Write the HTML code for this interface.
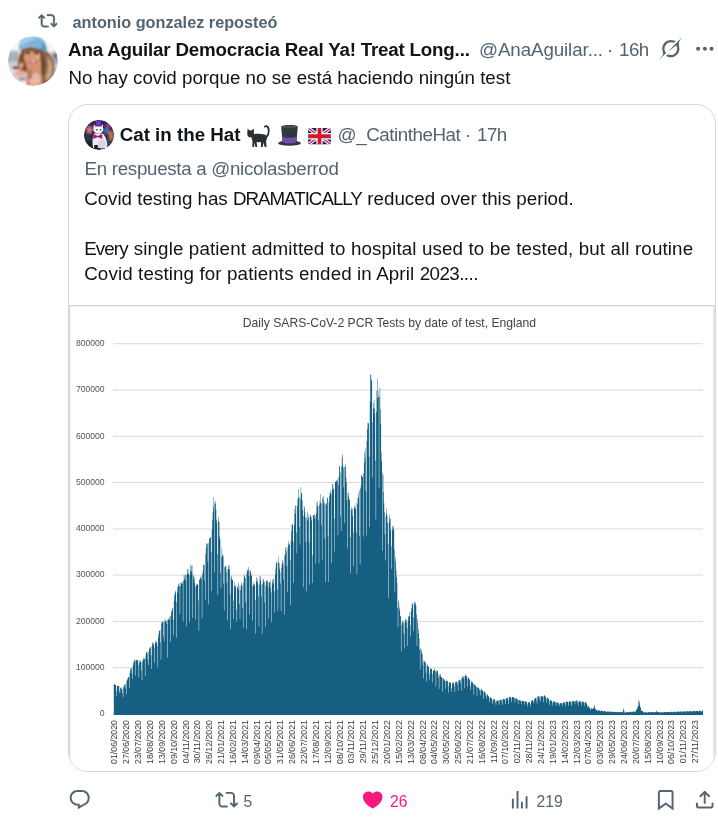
<!DOCTYPE html>
<html lang="es">
<head>
<meta charset="utf-8">
<title>Post</title>
<style>
html,body{margin:0;padding:0;background:#fff;}
body{width:718px;height:818px;position:relative;overflow:hidden;font-family:"Liberation Sans",sans-serif;color:#0f1419;-webkit-font-smoothing:antialiased;}
.abs{position:absolute;white-space:nowrap;line-height:1;}
.ln{height:19px;width:0;}
.ln span{position:absolute;top:0;white-space:pre;}
.ln i{font-style:normal;}
.rt{left:72.5px;top:14.25px;font-size:16.25px;font-weight:700;color:#536471;}
.name{left:0;top:40.75px;font-size:18.75px;font-weight:700;}
.handle{left:479px;top:40.75px;font-size:18.75px;color:#536471;letter-spacing:-0.1px;}
.time i,.qtime i{font-style:normal;letter-spacing:-0.5px;margin-left:0.5px;}
.time{left:607px;top:40.75px;font-size:18.75px;color:#536471;}
.body{left:0;top:68.5px;font-size:18.75px;}
.av1{left:8px;top:36px;width:50px;height:50px;border-radius:50%;overflow:hidden;}
.card{position:absolute;left:68px;top:104px;width:645.7px;height:665.7px;border:1px solid #cfd9de;border-radius:20px;overflow:hidden;box-sizing:content-box;}
.av2{left:15px;top:15px;width:30px;height:30px;border-radius:50%;overflow:hidden;}
.qname{left:50.7px;top:20.9px;font-size:18.75px;font-weight:700;}
.qhandle{left:268.6px;top:21px;font-size:18.75px;color:#536471;letter-spacing:-0.45px;}
.qtime{left:396px;top:21px;font-size:18.75px;color:#536471;}
.qreply{left:-69px;top:55px;font-size:18.75px;color:#536471;}
.q1{left:-69px;top:84.5px;font-size:18.75px;}
.q2{left:-69px;top:134.5px;font-size:18.75px;}
.q3{left:-69px;top:159.5px;font-size:18.75px;}
.chart{position:absolute;left:0;top:200px;}
.cnt{font-size:15.7px;color:#536471;}
</style>
</head>
<body>
<!-- repost line -->
<svg class="abs" style="left:38.200px;top:11.300px" width="19.600" height="19.600" viewBox="0 0 24 24"><path fill="#536471" stroke="#536471" stroke-width="0.400" d="M4.5 3.88l4.432 4.14-1.364 1.46L5.5 7.55V16c0 1.1.896 2 2 2H13v2H7.500c-2.209 0-4-1.790-4-4V7.550L1.432 9.480.068 8.020 4.500 3.880zM16.500 6H11V4h5.500c2.209 0 4 1.790 4 4v8.450l2.068-1.930 1.364 1.460-4.432 4.140-4.432-4.140 1.364-1.460 2.068 1.930V8c0-1.100-.896-2-2-2z"/></svg>
<div class="abs rt">antonio gonzalez reposteó</div>

<!-- avatar -->
<div class="abs av1">
<svg width="50" height="50" viewBox="0 0 50 50">
<defs><filter id="b1" x="-20%" y="-20%" width="140%" height="140%"><feGaussianBlur stdDeviation="0.9"/></filter>
<filter id="b1b" x="-20%" y="-20%" width="140%" height="140%"><feGaussianBlur stdDeviation="1.8"/></filter>
<clipPath id="c1"><circle cx="25" cy="25" r="25"/></clipPath></defs>
<g clip-path="url(#c1)">
<rect width="50" height="50" fill="#f6f6f7"/>
<g filter="url(#b1b)">
<rect x="-2" y="15" width="13" height="12" fill="#a9b2bb"/>
<rect x="-2" y="26" width="13" height="9" fill="#d2d2d4"/>
<rect x="43" y="16" width="9" height="12" fill="#a4a9b2"/>
<rect x="44" y="28" width="8" height="8" fill="#dcdad8"/>
</g>
<g filter="url(#b1)">
<rect x="5" y="30.500" width="5.500" height="2.600" fill="#555"/>
<rect x="46" y="18" width="3" height="4" fill="#5e6670"/>
<!-- hair right -->
<path d="M30 12 C38 12 44 18 46 27 C48 35 46 42 41 47 C38 49 33 49 31 46 C33 38 33 26 30 12Z" fill="#8a6246"/>
<path d="M39 20 C44 24 46 32 43 41 C41 44 38 45 37 43 C40 36 41 28 39 20Z" fill="#c9a47e"/>
<path d="M31 14 C36 18 37.500 26 36.500 36 C35 41 32 42 31 40 C32 30 32 22 31 14Z" fill="#63402c"/>
<!-- hair left -->
<path d="M14 15 C10 20 9 28 11 34 C13 38 18 38 21 35 C18 30 17 22 18 15Z" fill="#7e4a30"/>
<ellipse cx="13.500" cy="30" rx="2.200" ry="3.500" fill="#d9a882"/>
<ellipse cx="17" cy="33" rx="3" ry="3.500" fill="#7a4028"/>
<!-- shoulder / chest -->
<ellipse cx="11" cy="40" rx="9" ry="6" fill="#efc6bd"/>
<ellipse cx="12" cy="37" rx="5" ry="2.500" fill="#e4a79c"/>
<path d="M19 25 L33 25 L34 50 L18 50Z" fill="#d3936f"/>
<ellipse cx="27" cy="43" rx="6" ry="6" fill="#e8b9a2"/>
<ellipse cx="22" cy="38" rx="2.500" ry="5" fill="#b87a60"/>
<rect x="11" y="41" width="6.500" height="3.600" fill="#86a7bf"/>
<!-- face -->
<ellipse cx="24.300" cy="21" rx="8.300" ry="10" fill="#d39a78"/>
<ellipse cx="24" cy="14" rx="8" ry="2.600" fill="#a9704f"/>
<ellipse cx="19.800" cy="16.800" rx="2.300" ry="1.400" fill="#35211d"/>
<ellipse cx="28.400" cy="17.100" rx="2.300" ry="1.400" fill="#35211d"/>
<ellipse cx="25" cy="25.800" rx="4.600" ry="1.900" fill="#c4504e"/>
<ellipse cx="25" cy="25.400" rx="2.800" ry="0.800" fill="#f3dcd4"/>
<ellipse cx="29.500" cy="21" rx="2" ry="2.500" fill="#e6ae8c"/>
<!-- cap -->
<path d="M14.200 2.500 C18 0.500 27 -0.500 31.800 1.400 C36 3.500 38.500 8 38.600 13 C38 15.500 36.500 16 35.600 15.300 C33 13.500 28 11 22.800 10.500 C18 10.500 14 12 11.900 14.400 C10.500 13 10.500 10.500 11.200 9.500 C11.500 6.500 12.500 4 14.200 2.500Z" fill="#7db5d8"/>
<path d="M14.500 3.500 C18 1.500 25 0.800 29 2 C24 4 18 6 13 10 C12.500 7.500 13.200 5 14.500 3.500Z" fill="#a4d0ea"/>
<path d="M34 5 C37 7.500 38.800 11 38.600 13.500 C38 15.500 36.500 16 35.600 15.300 C34.500 14.500 33.500 14 32.500 13.500 C34 11 34.500 8 34 5Z" fill="#5e92b8"/>
<path d="M12.500 14.300 C16 11.800 20 11.200 23 11.400 C28 12 32 14 35 16 L34.300 17 C31 15 27 13.500 23 13.200 C19 13 15.500 14 13.200 15.500Z" fill="#4d3430"/>
</g>
</g>
</svg>
</div>

<div class="abs ln name"><span style="left:68.1px"><i style="letter-spacing:-0.20px">Ana Aguilar Democracia Real Ya! Treat Long...</i></span></div>
<div class="abs handle">@AnaAguilar...</div>
<div class="abs time">· <i>16h</i></div>
<!-- grok icon -->
<svg class="abs" style="left:659px;top:37px" width="23" height="23" viewBox="0 0 33 32"><path fill="#536471" d="M12.745 20.540l10.970-8.190c.539-.400 1.307-.244 1.564.380 1.349 3.288.746 7.241-1.938 9.955-2.683 2.714-6.417 3.310-9.830 1.954l-3.728 1.745c5.347 3.697 11.840 2.782 15.898-1.324 3.219-3.255 4.216-7.692 3.284-11.693l.008.009c-1.351-5.878.332-8.227 3.782-13.031L33 0l-4.540 4.590v-.014L12.743 20.544m-2.263 1.987c-3.837-3.707-3.175-9.446.100-12.755 2.420-2.449 6.388-3.448 9.852-1.979l3.720-1.737c-.670-.490-1.530-1.017-2.515-1.387-4.455-1.854-9.789-.931-13.410 2.728-3.483 3.523-4.579 8.940-2.697 13.561 1.405 3.454-.899 5.898-3.220 8.364C1.490 30.200.666 31.074 0 32l10.478-9.466"/></svg>
<svg class="abs" style="left:694px;top:44px" width="22" height="10" viewBox="0 0 22 10"><g fill="#536471"><circle cx="4.100" cy="4.700" r="2"/><circle cx="10.900" cy="4.700" r="2"/><circle cx="17.500" cy="4.700" r="2"/></g></svg>

<div class="abs ln body"><span style="left:68.4px"><i style="letter-spacing:0.00px">No hay covid porque no se está haciendo ningún test</i></span></div>

<!-- quoted card -->
<div class="card">
<div class="abs av2">
<svg width="30" height="30" viewBox="0 0 30 30">
<defs><filter id="b2" x="-20%" y="-20%" width="140%" height="140%"><feGaussianBlur stdDeviation="0.6"/></filter>
<filter id="b2b" x="-20%" y="-20%" width="140%" height="140%"><feGaussianBlur stdDeviation="1.2"/></filter>
<clipPath id="c2"><circle cx="15" cy="15" r="15"/></clipPath></defs>
<g clip-path="url(#c2)">
<rect width="30" height="30" fill="#2b2445"/>
<g filter="url(#b2b)">
<rect x="0" y="0" width="12" height="8" fill="#3a2050"/>
<ellipse cx="5.500" cy="10" rx="3.200" ry="3.600" fill="#d07888"/>
<ellipse cx="3.500" cy="18" rx="4" ry="5" fill="#26384a"/>
<ellipse cx="5" cy="25" rx="5" ry="4" fill="#1c1c2a"/>
<ellipse cx="24" cy="5.500" rx="3" ry="2.500" fill="#a03090"/>
<ellipse cx="22.500" cy="11" rx="3" ry="3.200" fill="#3a6cb4"/>
<ellipse cx="27" cy="15.500" rx="2.600" ry="5" fill="#c4703a"/>
<ellipse cx="24" cy="23" rx="5" ry="3" fill="#1e4a5a"/>
<ellipse cx="20" cy="3" rx="3" ry="2" fill="#2a2a5a"/>
</g>
<g filter="url(#b2)">
<path d="M9 28 C8 22 8.500 17 10 13.500 L19 13.500 C22 17 24 23 23 28Z" fill="#f1ecf4"/>
<ellipse cx="18" cy="24" rx="4" ry="4.500" fill="#ddd3e8"/>
<ellipse cx="14.300" cy="9.300" rx="5" ry="4.300" fill="#f8f4f2"/>
<path d="M9.500 8 L9.800 4.200 L12.500 6.200Z" fill="#f3e6e6"/>
<path d="M19 8 L19 4.200 L16.200 6.200Z" fill="#f3e6e6"/>
<rect x="11.800" y="0.600" width="5.200" height="5.300" fill="#6a36c8"/>
<rect x="10.800" y="5.300" width="7.200" height="1.100" fill="#4a2490"/>
<ellipse cx="12.900" cy="9.800" rx="0.900" ry="0.800" fill="#3a3a30"/>
<ellipse cx="16.500" cy="9.800" rx="0.900" ry="0.800" fill="#3a3a30"/>
<path d="M9.300 14 L13.800 16 L18.200 13.900 L18.200 19 L13.800 17 L9.300 19Z" fill="#b01868"/>
<ellipse cx="12" cy="27" rx="2.200" ry="2.200" fill="#2a1a2c"/>
<path d="M6 28 C10 30.500 20 30.500 24 27.500 L24 31 L6 31Z" fill="#c02880"/>
</g>
</g>
</svg>
</div>
<div class="abs qname">Cat in the Hat</div>
<!-- emojis -->
<svg class="abs" role="img" aria-label="🐈‍⬛" style="left:177.400px;top:19px" width="24.600" height="24.600" viewBox="0 0 36 36"><g fill="#292f33"><path d="M27.500 20.500 C32.500 18.500 34 12 33 7 C32.500 3.500 29.500 2.200 27.500 3.800" fill="none" stroke="#292f33" stroke-width="2.700" stroke-linecap="round"/><path d="M8 16 C13 13.500 22 14.500 27 15.500 C31 16.500 31.500 21 29.500 24.500 L30 33.500 L27.300 33.500 L25.500 27 L24.500 33.500 L21.800 33.500 L22 26.500 C19.500 26.800 17.500 26.600 15.500 26.200 L16.500 33.500 L13.800 33.500 L12.500 27.500 L11.800 33.500 L9.200 33.500 L9.500 24.500 C8.500 22.500 8 19.500 8 16Z"/><circle cx="6.800" cy="14.500" r="4.900"/><path d="M2 13 L2.300 6.500 L6.500 10.500Z"/><path d="M7.200 10.300 L11.300 6.500 L11.700 13Z"/></g></svg>
<svg class="abs" role="img" aria-label="🎩" style="left:209px;top:20px" width="23" height="21" viewBox="0 0 36 33"><path fill="#31373d" d="M5 3c0-2 6-3 13-3s13 1 13 3l-2 23H7L5 3z"/><ellipse cx="18" cy="3.200" rx="12" ry="2.200" fill="#4a5058"/><path fill="#744eaa" d="M6.300 18l.7 8c3 1.500 7 2 11 2s8-.5 11-2l.7-8c-3 1.500-7 2.200-11.700 2.200S9.300 19.500 6.300 18z"/><ellipse cx="18" cy="28.500" rx="18" ry="4.300" fill="#31373d"/><ellipse cx="18" cy="26.500" rx="11" ry="2.500" fill="#744eaa"/></svg>
<svg class="abs" role="img" aria-label="🇬🇧" style="left:239px;top:23px" width="23" height="16.500" viewBox="0 0 36 26"><defs><clipPath id="fc"><rect width="36" height="26" rx="4"/></clipPath></defs><g clip-path="url(#fc)"><rect width="36" height="26" fill="#00247d"/><path d="M0 0L36 26M36 0L0 26" stroke="#fff" stroke-width="5.500"/><path d="M0 0L36 26M36 0L0 26" stroke="#cf1b2b" stroke-width="2"/><path d="M18 0V26M0 13H36" stroke="#fff" stroke-width="10"/><path d="M18 0V26M0 13H36" stroke="#cf1b2b" stroke-width="6"/></g></svg>
<div class="abs qhandle">@_CatintheHat</div>
<div class="abs qtime">· <i>17h</i></div>
<div class="abs ln qreply"><span style="left:84.6px"><i style="letter-spacing:-0.31px">En respuesta a @nicolasberrod</i></span></div>
<div class="abs ln q1"><span style="left:84.2px"><i style="letter-spacing:-0.02px">Covid testing has </i><i style="letter-spacing:-1.00px">DRAMATICALLY</i><i style="letter-spacing:0.20px"> </i><i style="letter-spacing:0.00px">reduced over this period.</i></span></div>
<div class="abs ln q2"><span style="left:84.2px"><i style="letter-spacing:-0.90px">Ever</i><i style="letter-spacing:0.00px">y </i><i style="letter-spacing:0.13px">single patient admitted to hospital used to be tested, but all routine</i></span></div>
<div class="abs ln q3"><span style="left:84.2px"><i style="letter-spacing:0.12px">Covid testing for patients ended in April </i><i style="letter-spacing:-0.55px">2023....</i></span></div>
<svg class="chart" width="647" height="467" viewBox="69 305 647 467">
<rect x="69" y="305" width="647" height="467" fill="#fff"/>
<path d="M69.5 772V305.5H716" fill="none" stroke="#d4d4d4" stroke-width="1.4"/>
<rect x="713.2" y="306" width="2.8" height="466" fill="#e2e2e2"/>
<g stroke="#d9d9d9" stroke-width="1">
<line x1="113" x2="703.0" y1="714.0" y2="714.0"/>
<line x1="113" x2="703.0" y1="667.7" y2="667.7"/>
<line x1="113" x2="703.0" y1="621.4" y2="621.4"/>
<line x1="113" x2="703.0" y1="575.1" y2="575.1"/>
<line x1="113" x2="703.0" y1="528.9" y2="528.9"/>
<line x1="113" x2="703.0" y1="482.6" y2="482.6"/>
<line x1="113" x2="703.0" y1="436.3" y2="436.3"/>
<line x1="113" x2="703.0" y1="390.0" y2="390.0"/>
<line x1="113" x2="703.0" y1="343.7" y2="343.7"/>
</g>
<g font-family="Liberation Sans, sans-serif" font-size="8.6" fill="#555" text-anchor="end">
<text x="104.6" y="716.3">0</text>
<text x="104.6" y="670.0">100000</text>
<text x="104.6" y="623.7">200000</text>
<text x="104.6" y="577.4">300000</text>
<text x="104.6" y="531.1">400000</text>
<text x="104.6" y="484.9">500000</text>
<text x="104.6" y="438.6">600000</text>
<text x="104.6" y="392.3">700000</text>
<text x="104.6" y="346.0">800000</text>
</g>
<text x="389.4" y="326.5" text-anchor="middle" font-family="Liberation Sans, sans-serif" font-size="12.18" fill="#444">Daily SARS-CoV-2 PCR Tests by date of test, England</text>
<path d="M113.80 714.0L113.80 685.0L114.25 685.0L114.25 685.0L114.70 685.0L114.70 685.4L115.15 685.4L115.15 685.4L115.61 685.4L115.61 690.8L116.06 690.8L116.06 696.6L116.51 696.6L116.51 696.6L116.96 696.6L116.96 696.6L117.41 696.6L117.41 686.3L117.86 686.3L117.86 686.3L118.31 686.3L118.31 686.3L118.77 686.3L118.77 691.5L119.22 691.5L119.22 693.9L119.67 693.9L119.67 693.9L120.12 693.9L120.12 693.9L120.57 693.9L120.57 688.1L121.02 688.1L121.02 689.5L121.48 689.5L121.48 689.5L121.93 689.5L121.93 693.4L122.38 693.4L122.38 697.5L122.83 697.5L122.83 697.5L123.28 697.5L123.28 697.5L123.73 697.5L123.73 687.4L124.18 687.4L124.18 686.6L124.64 686.6L124.64 685.2L125.09 685.2L125.09 688.9L125.54 688.9L125.54 694.5L125.99 694.5L125.99 694.5L126.44 694.5L126.44 694.5L126.89 694.5L126.89 681.9L127.34 681.9L127.34 680.4L127.80 680.4L127.80 679.3L128.25 679.3L128.25 677.9L128.70 677.9L128.70 688.3L129.15 688.3L129.15 688.3L129.60 688.3L129.60 688.3L130.05 688.3L130.05 673.5L130.51 673.5L130.51 671.0L130.96 671.0L130.96 668.9L131.41 668.9L131.41 673.9L131.86 673.9L131.86 679.2L132.31 679.2L132.31 679.2L132.76 679.2L132.76 679.2L133.21 679.2L133.21 666.1L133.67 666.1L133.67 662.8L134.12 662.8L134.12 662.8L134.57 662.8L134.57 660.8L135.02 660.8L135.02 676.1L135.47 676.1L135.47 676.1L135.92 676.1L135.92 676.1L136.37 676.1L136.37 661.0L136.83 661.0L136.83 660.3L137.28 660.3L137.28 660.7L137.73 660.7L137.73 665.2L138.18 665.2L138.18 677.9L138.63 677.9L138.63 677.9L139.08 677.9L139.08 677.9L139.54 677.9L139.54 662.9L139.99 662.9L139.99 662.2L140.44 662.2L140.44 662.2L140.89 662.2L140.89 670.8L141.34 670.8L141.34 680.3L141.79 680.3L141.79 680.3L142.24 680.3L142.24 680.3L142.70 680.3L142.70 662.0L143.15 662.0L143.15 660.1L143.60 660.1L143.60 659.6L144.05 659.6L144.05 659.6L144.50 659.6L144.50 676.3L144.95 676.3L144.95 676.3L145.40 676.3L145.40 676.3L145.86 676.3L145.86 656.8L146.31 656.8L146.31 653.1L146.76 653.1L146.76 653.6L147.21 653.6L147.21 659.7L147.66 659.7L147.66 665.6L148.11 665.6L148.11 665.6L148.57 665.6L148.57 665.6L149.02 665.6L149.02 652.1L149.47 652.1L149.47 649.2L149.92 649.2L149.92 648.1L150.37 648.1L150.37 655.4L150.82 655.4L150.82 669.4L151.27 669.4L151.27 669.4L151.73 669.4L151.73 669.4L152.18 669.4L152.18 646.9L152.63 646.9L152.63 643.8L153.08 643.8L153.08 644.7L153.53 644.7L153.53 648.0L153.98 648.0L153.98 663.1L154.43 663.1L154.43 663.1L154.89 663.1L154.89 663.1L155.34 663.1L155.34 643.8L155.79 643.8L155.79 643.0L156.24 643.0L156.24 643.0L156.69 643.0L156.69 646.0L157.14 646.0L157.14 667.9L157.59 667.9L157.59 667.9L158.05 667.9L158.05 667.9L158.50 667.9L158.50 637.9L158.95 637.9L158.95 633.7L159.40 633.7L159.40 631.1L159.85 631.1L159.85 642.7L160.30 642.7L160.30 660.1L160.76 660.1L160.76 660.1L161.21 660.1L161.21 660.1L161.66 660.1L161.66 623.8L162.11 623.8L162.11 622.7L162.56 622.7L162.56 622.7L163.01 622.7L163.01 636.7L163.46 636.7L163.46 641.6L163.92 641.6L163.92 641.6L164.37 641.6L164.37 641.6L164.82 641.6L164.82 621.7L165.27 621.7L165.27 621.7L165.72 621.7L165.72 621.7L166.17 621.7L166.17 624.3L166.62 624.3L166.62 658.0L167.08 658.0L167.08 658.0L167.53 658.0L167.53 658.0L167.98 658.0L167.98 620.1L168.43 620.1L168.43 620.1L168.88 620.1L168.88 620.2L169.33 620.2L169.33 620.2L169.79 620.2L169.79 642.1L170.24 642.1L170.24 642.1L170.69 642.1L170.69 642.1L171.14 642.1L171.14 616.5L171.59 616.5L171.59 611.7L172.04 611.7L172.04 611.5L172.49 611.5L172.49 620.1L172.95 620.1L172.95 635.5L173.40 635.5L173.40 635.5L173.85 635.5L173.85 635.5L174.30 635.5L174.30 601.3L174.75 601.3L174.75 595.9L175.20 595.9L175.20 593.5L175.65 593.5L175.65 602.5L176.11 602.5L176.11 638.1L176.56 638.1L176.56 638.1L177.01 638.1L177.01 638.1L177.46 638.1L177.46 593.1L177.91 593.1L177.91 587.1L178.36 587.1L178.36 586.7L178.82 586.7L178.82 586.5L179.27 586.5L179.27 614.2L179.72 614.2L179.72 614.2L180.17 614.2L180.17 614.2L180.62 614.2L180.62 586.8L181.07 586.8L181.07 583.5L181.52 583.5L181.52 584.2L181.98 584.2L181.98 584.2L182.43 584.2L182.43 621.5L182.88 621.5L182.88 621.5L183.33 621.5L183.33 621.5L183.78 621.5L183.78 580.7L184.23 580.7L184.23 579.3L184.68 579.3L184.68 579.3L185.14 579.3L185.14 580.8L185.59 580.8L185.59 626.5L186.04 626.5L186.04 626.5L186.49 626.5L186.49 626.5L186.94 626.5L186.94 575.3L187.39 575.3L187.39 573.7L187.85 573.7L187.85 574.3L188.30 574.3L188.30 574.3L188.75 574.3L188.75 622.9L189.20 622.9L189.20 622.9L189.65 622.9L189.65 622.9L190.10 622.9L190.10 575.9L190.55 575.9L190.55 570.9L191.01 570.9L191.01 572.1L191.46 572.1L191.46 572.1L191.91 572.1L191.91 618.4L192.36 618.4L192.36 618.4L192.81 618.4L192.81 618.4L193.26 618.4L193.26 579.8L193.71 579.8L193.71 579.8L194.17 579.8L194.17 583.4L194.62 583.4L194.62 587.3L195.07 587.3L195.07 620.0L195.52 620.0L195.52 620.0L195.97 620.0L195.97 620.0L196.42 620.0L196.42 585.6L196.87 585.6L196.87 585.1L197.33 585.1L197.33 585.4L197.78 585.4L197.78 600.8L198.23 600.8L198.23 631.4L198.68 631.4L198.68 631.4L199.13 631.4L199.13 631.4L199.58 631.4L199.58 580.2L200.04 580.2L200.04 579.2L200.49 579.2L200.49 577.8L200.94 577.8L200.94 579.6L201.39 579.6L201.39 618.6L201.84 618.6L201.84 618.6L202.29 618.6L202.29 618.6L202.74 618.6L202.74 574.3L203.20 574.3L203.20 570.8L203.65 570.8L203.65 565.4L204.10 565.4L204.10 581.1L204.55 581.1L204.55 600.1L205.00 600.1L205.00 600.1L205.45 600.1L205.45 600.1L205.90 600.1L205.90 554.1L206.36 554.1L206.36 548.2L206.81 548.2L206.81 544.5L207.26 544.5L207.26 561.7L207.71 561.7L207.71 604.9L208.16 604.9L208.16 604.9L208.61 604.9L208.61 604.9L209.07 604.9L209.07 543.2L209.52 543.2L209.52 539.6L209.97 539.6L209.97 538.4L210.42 538.4L210.42 552.6L210.87 552.6L210.87 591.6L211.32 591.6L211.32 591.6L211.77 591.6L211.77 591.6L212.23 591.6L212.23 529.8L212.68 529.8L212.68 519.9L213.13 519.9L213.13 512.4L213.58 512.4L213.58 507.7L214.03 507.7L214.03 573.1L214.48 573.1L214.48 573.1L214.93 573.1L214.93 573.1L215.39 573.1L215.39 509.7L215.84 509.7L215.84 519.7L216.29 519.7L216.29 522.7L216.74 522.7L216.74 554.7L217.19 554.7L217.19 595.4L217.64 595.4L217.64 595.4L218.10 595.4L218.10 595.4L218.55 595.4L218.55 522.2L219.00 522.2L219.00 537.0L219.45 537.0L219.45 539.6L219.90 539.6L219.90 573.4L220.35 573.4L220.35 588.3L220.80 588.3L220.80 588.3L221.26 588.3L221.26 588.3L221.71 588.3L221.71 557.0L222.16 557.0L222.16 556.8L222.61 556.8L222.61 556.8L223.06 556.8L223.06 583.8L223.51 583.8L223.51 610.7L223.96 610.7L223.96 610.7L224.42 610.7L224.42 610.7L224.87 610.7L224.87 567.9L225.32 567.9L225.32 567.0L225.77 567.0L225.77 572.4L226.22 572.4L226.22 583.4L226.67 583.4L226.67 620.5L227.13 620.5L227.13 620.5L227.58 620.5L227.58 620.5L228.03 620.5L228.03 569.4L228.48 569.4L228.48 569.2L228.93 569.2L228.93 569.6L229.38 569.6L229.38 594.6L229.83 594.6L229.83 629.4L230.29 629.4L230.29 629.4L230.74 629.4L230.74 629.4L231.19 629.4L231.19 579.5L231.64 579.5L231.64 580.4L232.09 580.4L232.09 580.4L232.54 580.4L232.54 600.7L232.99 600.7L232.99 619.4L233.45 619.4L233.45 619.4L233.90 619.4L233.90 619.4L234.35 619.4L234.35 586.7L234.80 586.7L234.80 588.1L235.25 588.1L235.25 588.1L235.70 588.1L235.70 609.9L236.15 609.9L236.15 622.3L236.61 622.3L236.61 622.3L237.06 622.3L237.06 622.3L237.51 622.3L237.51 587.7L237.96 587.7L237.96 589.5L238.41 589.5L238.41 589.5L238.86 589.5L238.86 604.2L239.32 604.2L239.32 619.3L239.77 619.3L239.77 619.3L240.22 619.3L240.22 619.3L240.67 619.3L240.67 590.2L241.12 590.2L241.12 586.2L241.57 586.2L241.57 586.0L242.02 586.0L242.02 608.2L242.48 608.2L242.48 628.1L242.93 628.1L242.93 628.1L243.38 628.1L243.38 628.1L243.83 628.1L243.83 583.0L244.28 583.0L244.28 577.0L244.73 577.0L244.73 578.8L245.18 578.8L245.18 602.6L245.64 602.6L245.64 629.9L246.09 629.9L246.09 629.9L246.54 629.9L246.54 629.9L246.99 629.9L246.99 573.7L247.44 573.7L247.44 571.6L247.89 571.6L247.89 571.6L248.35 571.6L248.35 576.3L248.80 576.3L248.80 614.9L249.25 614.9L249.25 614.9L249.70 614.9L249.70 614.9L250.15 614.9L250.15 572.6L250.60 572.6L250.60 574.9L251.05 574.9L251.05 576.4L251.51 576.4L251.51 586.1L251.96 586.1L251.96 621.1L252.41 621.1L252.41 621.1L252.86 621.1L252.86 621.1L253.31 621.1L253.31 585.8L253.76 585.8L253.76 584.6L254.21 584.6L254.21 586.2L254.67 586.2L254.67 600.1L255.12 600.1L255.12 633.8L255.57 633.8L255.57 633.8L256.02 633.8L256.02 633.8L256.47 633.8L256.47 581.9L256.92 581.9L256.92 582.6L257.38 582.6L257.38 584.2L257.83 584.2L257.83 596.8L258.28 596.8L258.28 626.4L258.73 626.4L258.73 626.4L259.18 626.4L259.18 626.4L259.63 626.4L259.63 585.4L260.08 585.4L260.08 580.8L260.54 580.8L260.54 584.2L260.99 584.2L260.99 596.8L261.44 596.8L261.44 634.4L261.89 634.4L261.89 634.4L262.34 634.4L262.34 634.4L262.79 634.4L262.79 584.5L263.24 584.5L263.24 582.6L263.70 582.6L263.70 582.6L264.15 582.6L264.15 602.9L264.60 602.9L264.60 627.0L265.05 627.0L265.05 627.0L265.50 627.0L265.50 627.0L265.95 627.0L265.95 585.8L266.41 585.8L266.41 581.8L266.86 581.8L266.86 581.7L267.31 581.7L267.31 587.4L267.76 587.4L267.76 618.9L268.21 618.9L268.21 618.9L268.66 618.9L268.66 618.9L269.11 618.9L269.11 583.2L269.57 583.2L269.57 583.2L270.02 583.2L270.02 588.1L270.47 588.1L270.47 592.9L270.92 592.9L270.92 622.5L271.37 622.5L271.37 622.5L271.82 622.5L271.82 622.5L272.27 622.5L272.27 584.8L272.73 584.8L272.73 581.3L273.18 581.3L273.18 583.3L273.63 583.3L273.63 591.6L274.08 591.6L274.08 612.8L274.53 612.8L274.53 612.8L274.98 612.8L274.98 612.8L275.43 612.8L275.43 574.7L275.89 574.7L275.89 568.8L276.34 568.8L276.34 563.2L276.79 563.2L276.79 589.9L277.24 589.9L277.24 611.0L277.69 611.0L277.69 611.0L278.14 611.0L278.14 611.0L278.60 611.0L278.60 563.6L279.05 563.6L279.05 569.1L279.50 569.1L279.50 572.6L279.95 572.6L279.95 583.9L280.40 583.9L280.40 611.4L280.85 611.4L280.85 611.4L281.30 611.4L281.30 611.4L281.76 611.4L281.76 568.0L282.21 568.0L282.21 563.6L282.66 563.6L282.66 564.9L283.11 564.9L283.11 579.9L283.56 579.9L283.56 614.7L284.01 614.7L284.01 614.7L284.46 614.7L284.46 614.7L284.92 614.7L284.92 556.1L285.37 556.1L285.37 554.2L285.82 554.2L285.82 551.2L286.27 551.2L286.27 566.4L286.72 566.4L286.72 592.6L287.17 592.6L287.17 592.6L287.63 592.6L287.63 592.6L288.08 592.6L288.08 548.0L288.53 548.0L288.53 545.0L288.98 545.0L288.98 545.0L289.43 545.0L289.43 560.1L289.88 560.1L289.88 605.4L290.33 605.4L290.33 605.4L290.79 605.4L290.79 605.4L291.24 605.4L291.24 540.7L291.69 540.7L291.69 531.2L292.14 531.2L292.14 525.2L292.59 525.2L292.59 542.6L293.04 542.6L293.04 583.4L293.49 583.4L293.49 583.4L293.95 583.4L293.95 583.4L294.40 583.4L294.40 525.5L294.85 525.5L294.85 514.1L295.30 514.1L295.30 514.1L295.75 514.1L295.75 533.1L296.20 533.1L296.20 553.6L296.66 553.6L296.66 553.6L297.11 553.6L297.11 553.6L297.56 553.6L297.56 506.1L298.01 506.1L298.01 499.4L298.46 499.4L298.46 497.7L298.91 497.7L298.91 527.4L299.36 527.4L299.36 544.8L299.82 544.8L299.82 544.8L300.27 544.8L300.27 544.8L300.72 544.8L300.72 499.3L301.17 499.3L301.17 493.8L301.62 493.8L301.62 500.6L302.07 500.6L302.07 510.3L302.52 510.3L302.52 587.5L302.98 587.5L302.98 587.5L303.43 587.5L303.43 587.5L303.88 587.5L303.88 516.3L304.33 516.3L304.33 512.9L304.78 512.9L304.78 517.9L305.23 517.9L305.23 542.3L305.69 542.3L305.69 591.5L306.14 591.5L306.14 591.5L306.59 591.5L306.59 591.5L307.04 591.5L307.04 520.5L307.49 520.5L307.49 520.5L307.94 520.5L307.94 520.5L308.39 520.5L308.39 542.6L308.85 542.6L308.85 584.8L309.30 584.8L309.30 584.8L309.75 584.8L309.75 584.8L310.20 584.8L310.20 516.7L310.65 516.7L310.65 517.5L311.10 517.5L311.10 520.7L311.55 520.7L311.55 555.6L312.01 555.6L312.01 583.6L312.46 583.6L312.46 583.6L312.91 583.6L312.91 583.6L313.36 583.6L313.36 515.9L313.81 515.9L313.81 515.9L314.26 515.9L314.26 519.4L314.71 519.4L314.71 519.4L315.17 519.4L315.17 564.2L315.62 564.2L315.62 564.2L316.07 564.2L316.07 564.2L316.52 564.2L316.52 513.5L316.97 513.5L316.97 506.7L317.42 506.7L317.42 506.7L317.88 506.7L317.88 520.7L318.33 520.7L318.33 563.5L318.78 563.5L318.78 563.5L319.23 563.5L319.23 563.5L319.68 563.5L319.68 505.3L320.13 505.3L320.13 503.1L320.58 503.1L320.58 504.2L321.04 504.2L321.04 525.6L321.49 525.6L321.49 560.6L321.94 560.6L321.94 560.6L322.39 560.6L322.39 560.6L322.84 560.6L322.84 499.6L323.29 499.6L323.29 503.1L323.74 503.1L323.74 503.3L324.20 503.3L324.20 538.8L324.65 538.8L324.65 582.6L325.10 582.6L325.10 582.6L325.55 582.6L325.55 582.6L326.00 582.6L326.00 505.4L326.45 505.4L326.45 505.4L326.91 505.4L326.91 505.4L327.36 505.4L327.36 536.7L327.81 536.7L327.81 582.4L328.26 582.4L328.26 582.4L328.71 582.4L328.71 582.4L329.16 582.4L329.16 502.0L329.61 502.0L329.61 496.5L330.07 496.5L330.07 493.3L330.52 493.3L330.52 494.5L330.97 494.5L330.97 563.2L331.42 563.2L331.42 563.2L331.87 563.2L331.87 563.2L332.32 563.2L332.32 490.5L332.77 490.5L332.77 489.4L333.23 489.4L333.23 489.4L333.68 489.4L333.68 518.8L334.13 518.8L334.13 551.9L334.58 551.9L334.58 551.9L335.03 551.9L335.03 551.9L335.48 551.9L335.48 482.0L335.94 482.0L335.94 482.0L336.39 482.0L336.39 481.8L336.84 481.8L336.84 481.8L337.29 481.8L337.29 535.3L337.74 535.3L337.74 535.3L338.19 535.3L338.19 535.3L338.64 535.3L338.64 485.0L339.10 485.0L339.10 476.7L339.55 476.7L339.55 472.8L340.00 472.8L340.00 516.9L340.45 516.9L340.45 531.5L340.90 531.5L340.90 531.5L341.35 531.5L341.35 531.5L341.80 531.5L341.80 466.9L342.26 466.9L342.26 465.1L342.71 465.1L342.71 468.1L343.16 468.1L343.16 487.6L343.61 487.6L343.61 523.2L344.06 523.2L344.06 523.2L344.51 523.2L344.51 523.2L344.97 523.2L344.97 467.2L345.42 467.2L345.42 477.5L345.87 477.5L345.87 482.8L346.32 482.8L346.32 500.2L346.77 500.2L346.77 548.7L347.22 548.7L347.22 548.7L347.67 548.7L347.67 548.7L348.13 548.7L348.13 497.0L348.58 497.0L348.58 499.9L349.03 499.9L349.03 500.0L349.48 500.0L349.48 537.5L349.93 537.5L349.93 573.5L350.38 573.5L350.38 573.5L350.83 573.5L350.83 573.5L351.29 573.5L351.29 510.9L351.74 510.9L351.74 510.9L352.19 510.9L352.19 516.3L352.64 516.3L352.64 532.8L353.09 532.8L353.09 566.3L353.54 566.3L353.54 566.3L353.99 566.3L353.99 566.3L354.45 566.3L354.45 508.0L354.90 508.0L354.90 509.2L355.35 509.2L355.35 509.2L355.80 509.2L355.80 532.7L356.25 532.7L356.25 574.7L356.70 574.7L356.70 574.7L357.16 574.7L357.16 574.7L357.61 574.7L357.61 504.1L358.06 504.1L358.06 498.2L358.51 498.2L358.51 497.8L358.96 497.8L358.96 536.5L359.41 536.5L359.41 564.8L359.86 564.8L359.86 564.8L360.32 564.8L360.32 564.8L360.77 564.8L360.77 488.9L361.22 488.9L361.22 485.5L361.67 485.5L361.67 477.3L362.12 477.3L362.12 477.3L362.57 477.3L362.57 536.9L363.02 536.9L363.02 536.9L363.48 536.9L363.48 536.9L363.93 536.9L363.93 473.5L364.38 473.5L364.38 462.9L364.83 462.9L364.83 458.0L365.28 458.0L365.28 491.6L365.73 491.6L365.73 535.8L366.19 535.8L366.19 535.8L366.64 535.8L366.64 535.8L367.09 535.8L367.09 441.0L367.54 441.0L367.54 429.5L367.99 429.5L367.99 429.5L368.44 429.5L368.44 457.0L368.89 457.0L368.89 527.3L369.35 527.3L369.35 527.3L369.80 527.3L369.80 527.3L370.25 527.3L370.25 401.8L370.70 401.8L370.70 380.7L371.15 380.7L371.15 380.7L371.60 380.7L371.60 422.6L372.05 422.6L372.05 477.9L372.51 477.9L372.51 477.9L372.96 477.9L372.96 477.9L373.41 477.9L373.41 408.3L373.86 408.3L373.86 409.1L374.31 409.1L374.31 413.8L374.76 413.8L374.76 460.9L375.22 460.9L375.22 519.7L375.67 519.7L375.67 519.7L376.12 519.7L376.12 519.7L376.57 519.7L376.57 412.0L377.02 412.0L377.02 398.4L377.47 398.4L377.47 398.4L377.92 398.4L377.92 397.0L378.38 397.0L378.38 488.6L378.83 488.6L378.83 488.6L379.28 488.6L379.28 488.6L379.73 488.6L379.73 409.4L380.18 409.4L380.18 423.8L380.63 423.8L380.63 452.7L381.08 452.7L381.08 461.6L381.54 461.6L381.54 551.0L381.99 551.0L381.99 551.0L382.44 551.0L382.44 551.0L382.89 551.0L382.89 492.4L383.34 492.4L383.34 503.2L383.79 503.2L383.79 512.6L384.25 512.6L384.25 534.6L384.70 534.6L384.70 560.8L385.15 560.8L385.15 560.8L385.60 560.8L385.60 560.8L386.05 560.8L386.05 517.2L386.50 517.2L386.50 515.9L386.95 515.9L386.95 523.3L387.41 523.3L387.41 544.4L387.86 544.4L387.86 598.3L388.31 598.3L388.31 598.3L388.76 598.3L388.76 598.3L389.21 598.3L389.21 522.4L389.66 522.4L389.66 519.1L390.11 519.1L390.11 530.2L390.57 530.2L390.57 546.6L391.02 546.6L391.02 569.3L391.47 569.3L391.47 569.3L391.92 569.3L391.92 569.3L392.37 569.3L392.37 530.6L392.82 530.6L392.82 527.8L393.27 527.8L393.27 530.4L393.73 530.4L393.73 550.0L394.18 550.0L394.18 591.8L394.63 591.8L394.63 591.8L395.08 591.8L395.08 591.8L395.53 591.8L395.53 570.4L395.98 570.4L395.98 577.1L396.44 577.1L396.44 583.4L396.89 583.4L396.89 608.4L397.34 608.4L397.34 627.5L397.79 627.5L397.79 627.5L398.24 627.5L398.24 627.5L398.69 627.5L398.69 607.5L399.14 607.5L399.14 610.5L399.60 610.5L399.60 616.1L400.05 616.1L400.05 616.9L400.50 616.9L400.50 651.8L400.95 651.8L400.95 651.8L401.40 651.8L401.40 651.8L401.85 651.8L401.85 625.8L402.30 625.8L402.30 623.0L402.76 623.0L402.76 623.2L403.21 623.2L403.21 633.9L403.66 633.9L403.66 648.7L404.11 648.7L404.11 648.7L404.56 648.7L404.56 648.7L405.01 648.7L405.01 622.8L405.47 622.8L405.47 622.5L405.92 622.5L405.92 622.5L406.37 622.5L406.37 628.4L406.82 628.4L406.82 646.2L407.27 646.2L407.27 646.2L407.72 646.2L407.72 646.2L408.17 646.2L408.17 621.3L408.63 621.3L408.63 617.4L409.08 617.4L409.08 616.5L409.53 616.5L409.53 625.5L409.98 625.5L409.98 636.5L410.43 636.5L410.43 636.5L410.88 636.5L410.88 636.5L411.33 636.5L411.33 611.4L411.79 611.4L411.79 608.3L412.24 608.3L412.24 604.8L412.69 604.8L412.69 617.5L413.14 617.5L413.14 631.6L413.59 631.6L413.59 631.6L414.04 631.6L414.04 631.6L414.50 631.6L414.50 603.7L414.95 603.7L414.95 604.4L415.40 604.4L415.40 606.2L415.85 606.2L415.85 614.9L416.30 614.9L416.30 646.2L416.75 646.2L416.75 646.2L417.20 646.2L417.20 646.2L417.66 646.2L417.66 629.3L418.11 629.3L418.11 633.2L418.56 633.2L418.56 638.6L419.01 638.6L419.01 650.0L419.46 650.0L419.46 669.8L419.91 669.8L419.91 669.8L420.36 669.8L420.36 669.8L420.82 669.8L420.82 651.1L421.27 651.1L421.27 653.5L421.72 653.5L421.72 655.0L422.17 655.0L422.17 665.4L422.62 665.4L422.62 678.8L423.07 678.8L423.07 678.8L423.53 678.8L423.53 678.8L423.98 678.8L423.98 661.7L424.43 661.7L424.43 663.1L424.88 663.1L424.88 663.1L425.33 663.1L425.33 672.9L425.78 672.9L425.78 681.6L426.23 681.6L426.23 681.6L426.69 681.6L426.69 681.6L427.14 681.6L427.14 666.3L427.59 666.3L427.59 667.2L428.04 667.2L428.04 667.2L428.49 667.2L428.49 674.4L428.94 674.4L428.94 680.0L429.39 680.0L429.39 680.0L429.85 680.0L429.85 680.0L430.30 680.0L430.30 670.0L430.75 670.0L430.75 669.4L431.20 669.4L431.20 669.4L431.65 669.4L431.65 674.2L432.10 674.2L432.10 682.9L432.55 682.9L432.55 682.9L433.01 682.9L433.01 682.9L433.46 682.9L433.46 671.4L433.91 671.4L433.91 670.7L434.36 670.7L434.36 670.4L434.81 670.4L434.81 671.8L435.26 671.8L435.26 686.9L435.72 686.9L435.72 686.9L436.17 686.9L436.17 686.9L436.62 686.9L436.62 672.8L437.07 672.8L437.07 671.4L437.52 671.4L437.52 674.2L437.97 674.2L437.97 678.4L438.42 678.4L438.42 689.1L438.88 689.1L438.88 689.1L439.33 689.1L439.33 689.1L439.78 689.1L439.78 675.8L440.23 675.8L440.23 677.1L440.68 677.1L440.68 677.3L441.13 677.3L441.13 677.3L441.58 677.3L441.58 692.1L442.04 692.1L442.04 692.1L442.49 692.1L442.49 692.1L442.94 692.1L442.94 679.2L443.39 679.2L443.39 680.5L443.84 680.5L443.84 680.5L444.29 680.5L444.29 681.0L444.75 681.0L444.75 689.4L445.20 689.4L445.20 689.4L445.65 689.4L445.65 689.4L446.10 689.4L446.10 681.8L446.55 681.8L446.55 681.4L447.00 681.4L447.00 681.4L447.45 681.4L447.45 686.5L447.91 686.5L447.91 693.1L448.36 693.1L448.36 693.1L448.81 693.1L448.81 693.1L449.26 693.1L449.26 682.8L449.71 682.8L449.71 683.2L450.16 683.2L450.16 683.2L450.61 683.2L450.61 688.6L451.07 688.6L451.07 692.0L451.52 692.0L451.52 692.0L451.97 692.0L451.97 692.0L452.42 692.0L452.42 684.7L452.87 684.7L452.87 683.3L453.32 683.3L453.32 683.3L453.78 683.3L453.78 686.8L454.23 686.8L454.23 692.3L454.68 692.3L454.68 692.3L455.13 692.3L455.13 692.3L455.58 692.3L455.58 683.1L456.03 683.1L456.03 682.0L456.48 682.0L456.48 682.8L456.94 682.8L456.94 684.7L457.39 684.7L457.39 691.0L457.84 691.0L457.84 691.0L458.29 691.0L458.29 691.0L458.74 691.0L458.74 681.4L459.19 681.4L459.19 680.5L459.64 680.5L459.64 680.5L460.10 680.5L460.10 683.6L460.55 683.6L460.55 690.8L461.00 690.8L461.00 690.8L461.45 690.8L461.45 690.8L461.90 690.8L461.90 678.8L462.35 678.8L462.35 678.2L462.81 678.2L462.81 677.6L463.26 677.6L463.26 679.2L463.71 679.2L463.71 688.5L464.16 688.5L464.16 688.5L464.61 688.5L464.61 688.5L465.06 688.5L465.06 676.4L465.51 676.4L465.51 676.4L465.97 676.4L465.97 676.4L466.42 676.4L466.42 678.3L466.87 678.3L466.87 687.3L467.32 687.3L467.32 687.3L467.77 687.3L467.77 687.3L468.22 687.3L468.22 679.0L468.67 679.0L468.67 680.1L469.13 680.1L469.13 680.1L469.58 680.1L469.58 686.1L470.03 686.1L470.03 690.4L470.48 690.4L470.48 690.4L470.93 690.4L470.93 690.4L471.38 690.4L471.38 682.5L471.83 682.5L471.83 682.2L472.29 682.2L472.29 683.9L472.74 683.9L472.74 684.0L473.19 684.0L473.19 695.0L473.64 695.0L473.64 695.0L474.09 695.0L474.09 695.0L474.54 695.0L474.54 685.6L475.00 685.6L475.00 686.1L475.45 686.1L475.45 686.8L475.90 686.8L475.90 687.7L476.35 687.7L476.35 696.7L476.80 696.7L476.80 696.7L477.25 696.7L477.25 696.7L477.70 696.7L477.70 688.0L478.16 688.0L478.16 688.2L478.61 688.2L478.61 689.1L479.06 689.1L479.06 690.7L479.51 690.7L479.51 695.7L479.96 695.7L479.96 695.7L480.41 695.7L480.41 695.7L480.86 695.7L480.86 690.5L481.32 690.5L481.32 690.5L481.77 690.5L481.77 690.5L482.22 690.5L482.22 691.3L482.67 691.3L482.67 699.0L483.12 699.0L483.12 699.0L483.57 699.0L483.57 699.0L484.03 699.0L484.03 692.4L484.48 692.4L484.48 692.4L484.93 692.4L484.93 693.8L485.38 693.8L485.38 696.4L485.83 696.4L485.83 698.9L486.28 698.9L486.28 698.9L486.73 698.9L486.73 698.9L487.19 698.9L487.19 695.3L487.64 695.3L487.64 696.2L488.09 696.2L488.09 696.8L488.54 696.8L488.54 698.3L488.99 698.3L488.99 702.6L489.44 702.6L489.44 702.6L489.89 702.6L489.89 702.6L490.35 702.6L490.35 698.3L490.80 698.3L490.80 698.3L491.25 698.3L491.25 699.1L491.70 699.1L491.70 701.1L492.15 701.1L492.15 704.4L492.60 704.4L492.60 704.4L493.06 704.4L493.06 704.4L493.51 704.4L493.51 699.7L493.96 699.7L493.96 700.0L494.41 700.0L494.41 700.1L494.86 700.1L494.86 702.7L495.31 702.7L495.31 705.2L495.76 705.2L495.76 705.2L496.22 705.2L496.22 705.2L496.67 705.2L496.67 701.2L497.12 701.2L497.12 701.0L497.57 701.0L497.57 700.7L498.02 700.7L498.02 702.6L498.47 702.6L498.47 704.8L498.92 704.8L498.92 704.8L499.38 704.8L499.38 704.8L499.83 704.8L499.83 700.6L500.28 700.6L500.28 700.2L500.73 700.2L500.73 700.0L501.18 700.0L501.18 701.8L501.63 701.8L501.63 705.1L502.09 705.1L502.09 705.1L502.54 705.1L502.54 705.1L502.99 705.1L502.99 699.8L503.44 699.8L503.44 699.5L503.89 699.5L503.89 699.5L504.34 699.5L504.34 700.6L504.79 700.6L504.79 704.3L505.25 704.3L505.25 704.3L505.70 704.3L505.70 704.3L506.15 704.3L506.15 699.2L506.60 699.2L506.60 698.2L507.05 698.2L507.05 698.2L507.50 698.2L507.50 700.5L507.95 700.5L507.95 704.3L508.41 704.3L508.41 704.3L508.86 704.3L508.86 704.3L509.31 704.3L509.31 697.7L509.76 697.7L509.76 697.7L510.21 697.7L510.21 697.7L510.66 697.7L510.66 698.7L511.11 698.7L511.11 702.5L511.57 702.5L511.57 702.5L512.02 702.5L512.02 702.5L512.47 702.5L512.47 697.4L512.92 697.4L512.92 697.8L513.37 697.8L513.37 698.0L513.82 698.0L513.82 698.7L514.28 698.7L514.28 702.5L514.73 702.5L514.73 702.5L515.18 702.5L515.18 702.5L515.63 702.5L515.63 698.8L516.08 698.8L516.08 698.7L516.53 698.7L516.53 699.3L516.98 699.3L516.98 700.6L517.44 700.6L517.44 704.7L517.89 704.7L517.89 704.7L518.34 704.7L518.34 704.7L518.79 704.7L518.79 700.3L519.24 700.3L519.24 700.7L519.69 700.7L519.69 700.7L520.14 700.7L520.14 701.3L520.60 701.3L520.60 704.6L521.05 704.6L521.05 704.6L521.50 704.6L521.50 704.6L521.95 704.6L521.95 701.5L522.40 701.5L522.40 701.3L522.85 701.3L522.85 701.5L523.31 701.5L523.31 701.5L523.76 701.5L523.76 705.1L524.21 705.1L524.21 705.1L524.66 705.1L524.66 705.1L525.11 705.1L525.11 701.9L525.56 701.9L525.56 701.8L526.01 701.8L526.01 702.2L526.47 702.2L526.47 704.2L526.92 704.2L526.92 706.8L527.37 706.8L527.37 706.8L527.82 706.8L527.82 706.8L528.27 706.8L528.27 702.7L528.72 702.7L528.72 702.8L529.17 702.8L529.17 702.8L529.63 702.8L529.63 704.3L530.08 704.3L530.08 706.8L530.53 706.8L530.53 706.8L530.98 706.8L530.98 706.8L531.43 706.8L531.43 701.6L531.88 701.6L531.88 701.0L532.34 701.0L532.34 700.7L532.79 700.7L532.79 701.7L533.24 701.7L533.24 703.5L533.69 703.5L533.69 703.5L534.14 703.5L534.14 703.5L534.59 703.5L534.59 699.4L535.04 699.4L535.04 699.2L535.50 699.2L535.50 698.3L535.95 698.3L535.95 700.7L536.40 700.7L536.40 704.3L536.85 704.3L536.85 704.3L537.30 704.3L537.30 704.3L537.75 704.3L537.75 697.3L538.20 697.3L538.20 696.5L538.66 696.5L538.66 696.7L539.11 696.7L539.11 699.9L539.56 699.9L539.56 701.8L540.01 701.8L540.01 701.8L540.46 701.8L540.46 701.8L540.91 701.8L540.91 697.1L541.37 697.1L541.37 696.7L541.82 696.7L541.82 696.7L542.27 696.7L542.27 697.4L542.72 697.4L542.72 702.5L543.17 702.5L543.17 702.5L543.62 702.5L543.62 702.5L544.07 702.5L544.07 696.0L544.53 696.0L544.53 696.3L544.98 696.3L544.98 697.3L545.43 697.3L545.43 699.1L545.88 699.1L545.88 703.1L546.33 703.1L546.33 703.1L546.78 703.1L546.78 703.1L547.23 703.1L547.23 698.5L547.69 698.5L547.69 698.5L548.14 698.5L548.14 699.6L548.59 699.6L548.59 701.8L549.04 701.8L549.04 705.4L549.49 705.4L549.49 705.4L549.94 705.4L549.94 705.4L550.39 705.4L550.39 701.1L550.85 701.1L550.85 701.1L551.30 701.1L551.30 701.3L551.75 701.3L551.75 703.3L552.20 703.3L552.20 705.9L552.65 705.9L552.65 705.9L553.10 705.9L553.10 705.9L553.56 705.9L553.56 701.8L554.01 701.8L554.01 702.1L554.46 702.1L554.46 702.4L554.91 702.4L554.91 703.3L555.36 703.3L555.36 706.1L555.81 706.1L555.81 706.1L556.26 706.1L556.26 706.1L556.72 706.1L556.72 703.0L557.17 703.0L557.17 702.7L557.62 702.7L557.62 703.1L558.07 703.1L558.07 704.6L558.52 704.6L558.52 706.2L558.97 706.2L558.97 706.2L559.42 706.2L559.42 706.2L559.88 706.2L559.88 703.9L560.33 703.9L560.33 703.5L560.78 703.5L560.78 703.5L561.23 703.5L561.23 704.0L561.68 704.0L561.68 706.0L562.13 706.0L562.13 706.0L562.59 706.0L562.59 706.0L563.04 706.0L563.04 703.2L563.49 703.2L563.49 702.7L563.94 702.7L563.94 702.6L564.39 702.6L564.39 703.9L564.84 703.9L564.84 706.9L565.29 706.9L565.29 706.9L565.75 706.9L565.75 706.9L566.20 706.9L566.20 702.3L566.65 702.3L566.65 702.2L567.10 702.2L567.10 702.2L567.55 702.2L567.55 702.7L568.00 702.7L568.00 706.0L568.45 706.0L568.45 706.0L568.91 706.0L568.91 706.0L569.36 706.0L569.36 701.7L569.81 701.7L569.81 701.7L570.26 701.7L570.26 701.7L570.71 701.7L570.71 703.5L571.16 703.5L571.16 706.2L571.62 706.2L571.62 706.2L572.07 706.2L572.07 706.2L572.52 706.2L572.52 701.8L572.97 701.8L572.97 701.4L573.42 701.4L573.42 701.6L573.87 701.6L573.87 701.6L574.32 701.6L574.32 704.6L574.78 704.6L574.78 704.6L575.23 704.6L575.23 704.6L575.68 704.6L575.68 701.6L576.13 701.6L576.13 701.0L576.58 701.0L576.58 701.0L577.03 701.0L577.03 703.2L577.48 703.2L577.48 706.1L577.94 706.1L577.94 706.1L578.39 706.1L578.39 706.1L578.84 706.1L578.84 701.7L579.29 701.7L579.29 701.6L579.74 701.6L579.74 701.6L580.19 701.6L580.19 702.8L580.65 702.8L580.65 705.8L581.10 705.8L581.10 705.8L581.55 705.8L581.55 705.8L582.00 705.8L582.00 702.3L582.45 702.3L582.45 702.0L582.90 702.0L582.90 702.1L583.35 702.1L583.35 703.4L583.81 703.4L583.81 706.2L584.26 706.2L584.26 706.2L584.71 706.2L584.71 706.2L585.16 706.2L585.16 702.9L585.61 702.9L585.61 703.3L586.06 703.3L586.06 704.1L586.51 704.1L586.51 705.1L586.97 705.1L586.97 708.2L587.42 708.2L587.42 708.2L587.87 708.2L587.87 708.2L588.32 708.2L588.32 707.2L588.77 707.2L588.77 707.8L589.22 707.8L589.22 708.3L589.67 708.3L589.67 708.9L590.13 708.9L590.13 710.6L590.58 710.6L590.58 710.6L591.03 710.6L591.03 710.6L591.48 710.6L591.48 709.0L591.93 709.0L591.93 709.1L592.38 709.1L592.38 709.1L592.84 709.1L592.84 709.1L593.29 709.1L593.29 709.0L593.74 709.0L593.74 708.4L594.19 708.4L594.19 708.4L594.64 708.4L594.64 708.9L595.09 708.9L595.09 710.1L595.54 710.1L595.54 710.3L596.00 710.3L596.00 710.3L596.45 710.3L596.45 711.8L596.90 711.8L596.90 711.8L597.35 711.8L597.35 711.8L597.80 711.8L597.80 710.5L598.25 710.5L598.25 710.6L598.70 710.6L598.70 710.7L599.16 710.7L599.16 711.0L599.61 711.0L599.61 711.7L600.06 711.7L600.06 711.7L600.51 711.7L600.51 711.7L600.96 711.7L600.96 711.0L601.41 711.0L601.41 711.0L601.87 711.0L601.87 711.2L602.32 711.2L602.32 711.5L602.77 711.5L602.77 712.4L603.22 712.4L603.22 712.4L603.67 712.4L603.67 712.4L604.12 712.4L604.12 711.4L604.57 711.4L604.57 711.5L605.03 711.5L605.03 711.6L605.48 711.6L605.48 712.0L605.93 712.0L605.93 712.5L606.38 712.5L606.38 712.5L606.83 712.5L606.83 712.5L607.28 712.5L607.28 711.8L607.73 711.8L607.73 711.8L608.19 711.8L608.19 711.9L608.64 711.9L608.64 712.3L609.09 712.3L609.09 712.5L609.54 712.5L609.54 712.5L609.99 712.5L609.99 712.5L610.44 712.5L610.44 712.0L610.90 712.0L610.90 712.0L611.35 712.0L611.35 712.0L611.80 712.0L611.80 712.2L612.25 712.2L612.25 712.6L612.70 712.6L612.70 712.6L613.15 712.6L613.15 712.6L613.60 712.6L613.60 712.1L614.06 712.1L614.06 712.2L614.51 712.2L614.51 712.2L614.96 712.2L614.96 712.3L615.41 712.3L615.41 712.9L615.86 712.9L615.86 712.9L616.31 712.9L616.31 712.9L616.76 712.9L616.76 712.3L617.22 712.3L617.22 712.3L617.67 712.3L617.67 712.3L618.12 712.3L618.12 712.5L618.57 712.5L618.57 712.9L619.02 712.9L619.02 712.9L619.47 712.9L619.47 712.9L619.93 712.9L619.93 712.3L620.38 712.3L620.38 712.2L620.83 712.2L620.83 712.2L621.28 712.2L621.28 712.6L621.73 712.6L621.73 712.7L622.18 712.7L622.18 712.7L622.63 712.7L622.63 712.7L623.09 712.7L623.09 712.0L623.54 712.0L623.54 711.1L623.99 711.1L623.99 712.7L624.44 712.7L624.44 712.7L624.89 712.7L624.89 713.2L625.34 713.2L625.34 713.2L625.79 713.2L625.79 713.2L626.25 713.2L626.25 712.6L626.70 712.6L626.70 712.5L627.15 712.5L627.15 712.4L627.60 712.4L627.60 712.4L628.05 712.4L628.05 713.0L628.50 713.0L628.50 713.0L628.95 713.0L628.95 713.0L629.41 713.0L629.41 712.3L629.86 712.3L629.86 712.2L630.31 712.2L630.31 712.1L630.76 712.1L630.76 712.1L631.21 712.1L631.21 712.7L631.66 712.7L631.66 712.7L632.12 712.7L632.12 712.7L632.57 712.7L632.57 712.1L633.02 712.1L633.02 711.9L633.47 711.9L633.47 711.9L633.92 711.9L633.92 712.2L634.37 712.2L634.37 712.6L634.82 712.6L634.82 712.6L635.28 712.6L635.28 712.6L635.73 712.6L635.73 711.6L636.18 711.6L636.18 710.8L636.63 710.8L636.63 710.1L637.08 710.1L637.08 709.4L637.53 709.4L637.53 708.8L637.98 708.8L637.98 706.7L638.44 706.7L638.44 706.4L638.89 706.4L638.89 703.4L639.34 703.4L639.34 705.9L639.79 705.9L639.79 707.5L640.24 707.5L640.24 708.7L640.69 708.7L640.69 711.2L641.15 711.2L641.15 711.2L641.60 711.2L641.60 711.4L642.05 711.4L642.05 711.6L642.50 711.6L642.50 712.0L642.95 712.0L642.95 712.3L643.40 712.3L643.40 712.6L643.85 712.6L643.85 713.1L644.31 713.1L644.31 713.1L644.76 713.1L644.76 713.1L645.21 713.1L645.21 712.6L645.66 712.6L645.66 712.6L646.11 712.6L646.11 712.6L646.56 712.6L646.56 712.7L647.01 712.7L647.01 713.1L647.47 713.1L647.47 713.1L647.92 713.1L647.92 713.1L648.37 713.1L648.37 712.5L648.82 712.5L648.82 712.5L649.27 712.5L649.27 712.4L649.72 712.4L649.72 712.6L650.18 712.6L650.18 713.0L650.63 713.0L650.63 713.0L651.08 713.0L651.08 713.0L651.53 713.0L651.53 712.4L651.98 712.4L651.98 712.4L652.43 712.4L652.43 712.3L652.88 712.3L652.88 712.5L653.34 712.5L653.34 713.0L653.79 713.0L653.79 713.0L654.24 713.0L654.24 713.0L654.69 713.0L654.69 712.3L655.14 712.3L655.14 712.3L655.59 712.3L655.59 712.3L656.04 712.3L656.04 712.3L656.50 712.3L656.50 712.1L656.95 712.1L656.95 712.3L657.40 712.3L657.40 712.6L657.85 712.6L657.85 712.6L658.30 712.6L658.30 712.6L658.75 712.6L658.75 712.6L659.21 712.6L659.21 712.6L659.66 712.6L659.66 713.1L660.11 713.1L660.11 713.1L660.56 713.1L660.56 713.1L661.01 713.1L661.01 712.5L661.46 712.5L661.46 712.5L661.91 712.5L661.91 712.5L662.37 712.5L662.37 712.6L662.82 712.6L662.82 713.1L663.27 713.1L663.27 713.1L663.72 713.1L663.72 713.1L664.17 713.1L664.17 712.5L664.62 712.5L664.62 712.4L665.07 712.4L665.07 712.3L665.53 712.3L665.53 712.4L665.98 712.4L665.98 712.9L666.43 712.9L666.43 712.9L666.88 712.9L666.88 712.9L667.33 712.9L667.33 712.3L667.78 712.3L667.78 712.3L668.23 712.3L668.23 712.3L668.69 712.3L668.69 712.3L669.14 712.3L669.14 712.9L669.59 712.9L669.59 712.9L670.04 712.9L670.04 712.9L670.49 712.9L670.49 712.3L670.94 712.3L670.94 712.2L671.40 712.2L671.40 712.1L671.85 712.1L671.85 712.5L672.30 712.5L672.30 712.8L672.75 712.8L672.75 712.8L673.20 712.8L673.20 712.8L673.65 712.8L673.65 712.0L674.10 712.0L674.10 712.0L674.56 712.0L674.56 712.1L675.01 712.1L675.01 712.3L675.46 712.3L675.46 712.9L675.91 712.9L675.91 712.9L676.36 712.9L676.36 712.9L676.81 712.9L676.81 712.0L677.26 712.0L677.26 711.9L677.72 711.9L677.72 711.9L678.17 711.9L678.17 712.2L678.62 712.2L678.62 712.6L679.07 712.6L679.07 712.6L679.52 712.6L679.52 712.6L679.97 712.6L679.97 711.9L680.43 711.9L680.43 711.8L680.88 711.8L680.88 711.8L681.33 711.8L681.33 711.8L681.78 711.8L681.78 712.7L682.23 712.7L682.23 712.7L682.68 712.7L682.68 712.7L683.13 712.7L683.13 711.7L683.59 711.7L683.59 711.7L684.04 711.7L684.04 711.7L684.49 711.7L684.49 711.7L684.94 711.7L684.94 712.7L685.39 712.7L685.39 712.7L685.84 712.7L685.84 712.7L686.29 712.7L686.29 711.6L686.75 711.6L686.75 711.6L687.20 711.6L687.20 711.6L687.65 711.6L687.65 711.6L688.10 711.6L688.10 712.6L688.55 712.6L688.55 712.6L689.00 712.6L689.00 712.6L689.46 712.6L689.46 711.5L689.91 711.5L689.91 711.4L690.36 711.4L690.36 711.5L690.81 711.5L690.81 711.7L691.26 711.7L691.26 712.2L691.71 712.2L691.71 712.2L692.16 712.2L692.16 712.2L692.62 712.2L692.62 711.4L693.07 711.4L693.07 711.3L693.52 711.3L693.52 711.3L693.97 711.3L693.97 711.7L694.42 711.7L694.42 712.1L694.87 712.1L694.87 712.1L695.32 712.1L695.32 712.1L695.78 712.1L695.78 711.3L696.23 711.3L696.23 711.2L696.68 711.2L696.68 711.2L697.13 711.2L697.13 711.4L697.58 711.4L697.58 712.2L698.03 712.2L698.03 712.2L698.49 712.2L698.49 712.2L698.94 712.2L698.94 711.1L699.39 711.1L699.39 711.1L699.84 711.1L699.84 711.1L700.29 711.1L700.29 711.5L700.74 711.5L700.74 712.2L701.19 712.2L701.19 712.2L701.65 712.2L701.65 712.2L702.10 712.2L702.10 711.1L702.55 711.1L702.55 710.9L703.00 710.9L703.00 714.0zM113.80 714.0V684.7h0.451V714.0zM114.25 714.0V684.3h0.451V714.0zM114.70 714.0V683.7h0.451V714.0zM115.15 714.0V685.1h0.451V714.0zM115.61 714.0V684.9h0.451V714.0zM116.06 714.0V690.5h0.451V714.0zM116.51 714.0V696.3h0.451V714.0zM116.96 714.0V685.9h0.451V714.0zM117.41 714.0V685.8h0.451V714.0zM117.86 714.0V686.0h0.451V714.0zM118.31 714.0V686.0h0.451V714.0zM118.77 714.0V685.9h0.451V714.0zM119.22 714.0V691.2h0.451V714.0zM119.67 714.0V693.6h0.451V714.0zM120.12 714.0V687.8h0.451V714.0zM120.57 714.0V687.7h0.451V714.0zM121.02 714.0V687.3h0.451V714.0zM121.48 714.0V689.2h0.451V714.0zM121.93 714.0V688.9h0.451V714.0zM122.38 714.0V693.1h0.451V714.0zM122.83 714.0V697.2h0.451V714.0zM123.28 714.0V687.1h0.451V714.0zM123.73 714.0V686.3h0.451V714.0zM124.18 714.0V684.9h0.451V714.0zM124.64 714.0V684.3h0.451V714.0zM125.09 714.0V684.2h0.451V714.0zM125.54 714.0V688.6h0.451V714.0zM125.99 714.0V694.2h0.451V714.0zM126.44 714.0V681.6h0.451V714.0zM126.89 714.0V680.1h0.451V714.0zM127.34 714.0V679.0h0.451V714.0zM127.80 714.0V677.6h0.451V714.0zM128.25 714.0V676.9h0.451V714.0zM128.70 714.0V677.1h0.451V714.0zM129.15 714.0V688.0h0.451V714.0zM129.60 714.0V673.2h0.451V714.0zM130.05 714.0V670.7h0.451V714.0zM130.51 714.0V668.6h0.451V714.0zM130.96 714.0V668.0h0.451V714.0zM131.41 714.0V668.2h0.451V714.0zM131.86 714.0V673.6h0.451V714.0zM132.31 714.0V678.9h0.451V714.0zM132.76 714.0V665.8h0.451V714.0zM133.21 714.0V662.3h0.451V714.0zM133.67 714.0V662.5h0.451V714.0zM134.12 714.0V660.2h0.451V714.0zM134.57 714.0V659.4h0.451V714.0zM135.02 714.0V660.5h0.451V714.0zM135.47 714.0V675.8h0.451V714.0zM135.92 714.0V660.7h0.451V714.0zM136.37 714.0V659.4h0.451V714.0zM136.83 714.0V660.0h0.451V714.0zM137.28 714.0V659.8h0.451V714.0zM137.73 714.0V660.4h0.451V714.0zM138.18 714.0V664.9h0.451V714.0zM138.63 714.0V677.6h0.451V714.0zM139.08 714.0V662.6h0.451V714.0zM139.54 714.0V660.3h0.451V714.0zM139.99 714.0V660.3h0.451V714.0zM140.44 714.0V661.9h0.451V714.0zM140.89 714.0V661.7h0.451V714.0zM141.34 714.0V670.5h0.451V714.0zM141.79 714.0V680.0h0.451V714.0zM142.24 714.0V661.7h0.451V714.0zM142.70 714.0V659.8h0.451V714.0zM143.15 714.0V657.4h0.451V714.0zM143.60 714.0V659.3h0.451V714.0zM144.05 714.0V659.1h0.451V714.0zM144.50 714.0V658.9h0.451V714.0zM144.95 714.0V676.0h0.451V714.0zM145.40 714.0V656.5h0.451V714.0zM145.86 714.0V652.8h0.451V714.0zM146.31 714.0V652.1h0.451V714.0zM146.76 714.0V651.7h0.451V714.0zM147.21 714.0V653.3h0.451V714.0zM147.66 714.0V659.4h0.451V714.0zM148.11 714.0V665.3h0.451V714.0zM148.57 714.0V651.8h0.451V714.0zM149.02 714.0V648.9h0.451V714.0zM149.47 714.0V647.8h0.451V714.0zM149.92 714.0V647.6h0.451V714.0zM150.37 714.0V646.6h0.451V714.0zM150.82 714.0V655.1h0.451V714.0zM151.27 714.0V669.1h0.451V714.0zM151.73 714.0V646.6h0.451V714.0zM152.18 714.0V643.5h0.451V714.0zM152.63 714.0V641.9h0.451V714.0zM153.08 714.0V643.3h0.451V714.0zM153.53 714.0V644.4h0.451V714.0zM153.98 714.0V647.7h0.451V714.0zM154.43 714.0V662.8h0.451V714.0zM154.89 714.0V643.5h0.451V714.0zM155.34 714.0V640.7h0.451V714.0zM155.79 714.0V640.7h0.451V714.0zM156.24 714.0V642.7h0.451V714.0zM156.69 714.0V641.9h0.451V714.0zM157.14 714.0V645.7h0.451V714.0zM157.59 714.0V667.6h0.451V714.0zM158.05 714.0V637.6h0.451V714.0zM158.50 714.0V633.4h0.451V714.0zM158.95 714.0V630.7h0.451V714.0zM159.40 714.0V630.8h0.451V714.0zM159.85 714.0V629.9h0.451V714.0zM160.30 714.0V642.4h0.451V714.0zM160.76 714.0V659.8h0.451V714.0zM161.21 714.0V623.5h0.451V714.0zM161.66 714.0V621.0h0.451V714.0zM162.11 714.0V622.4h0.451V714.0zM162.56 714.0V622.0h0.451V714.0zM163.01 714.0V621.6h0.451V714.0zM163.46 714.0V636.4h0.451V714.0zM163.92 714.0V641.3h0.451V714.0zM164.37 714.0V621.4h0.451V714.0zM164.82 714.0V618.5h0.451V714.0zM165.27 714.0V620.5h0.451V714.0zM165.72 714.0V621.4h0.451V714.0zM166.17 714.0V621.3h0.451V714.0zM166.62 714.0V624.0h0.451V714.0zM167.08 714.0V657.7h0.451V714.0zM167.53 714.0V619.5h0.451V714.0zM167.98 714.0V618.7h0.451V714.0zM168.43 714.0V619.8h0.451V714.0zM168.88 714.0V617.6h0.451V714.0zM169.33 714.0V619.9h0.451V714.0zM169.79 714.0V615.7h0.451V714.0zM170.24 714.0V641.8h0.451V714.0zM170.69 714.0V616.2h0.451V714.0zM171.14 714.0V611.4h0.451V714.0zM171.59 714.0V611.2h0.451V714.0zM172.04 714.0V607.8h0.451V714.0zM172.49 714.0V608.9h0.451V714.0zM172.95 714.0V619.8h0.451V714.0zM173.40 714.0V635.2h0.451V714.0zM173.85 714.0V601.0h0.451V714.0zM174.30 714.0V595.6h0.451V714.0zM174.75 714.0V593.2h0.451V714.0zM175.20 714.0V591.7h0.451V714.0zM175.65 714.0V590.8h0.451V714.0zM176.11 714.0V602.2h0.451V714.0zM176.56 714.0V637.8h0.451V714.0zM177.01 714.0V592.8h0.451V714.0zM177.46 714.0V586.8h0.451V714.0zM177.91 714.0V586.4h0.451V714.0zM178.36 714.0V584.2h0.451V714.0zM178.82 714.0V583.1h0.451V714.0zM179.27 714.0V586.2h0.451V714.0zM179.72 714.0V613.9h0.451V714.0zM180.17 714.0V586.5h0.451V714.0zM180.62 714.0V583.0h0.451V714.0zM181.07 714.0V582.3h0.451V714.0zM181.52 714.0V583.2h0.451V714.0zM181.98 714.0V583.9h0.451V714.0zM182.43 714.0V581.8h0.451V714.0zM182.88 714.0V621.2h0.451V714.0zM183.33 714.0V580.4h0.451V714.0zM183.78 714.0V574.6h0.451V714.0zM184.23 714.0V579.0h0.451V714.0zM184.68 714.0V575.6h0.451V714.0zM185.14 714.0V574.6h0.451V714.0zM185.59 714.0V580.5h0.451V714.0zM186.04 714.0V626.2h0.451V714.0zM186.49 714.0V575.0h0.451V714.0zM186.94 714.0V573.4h0.451V714.0zM187.39 714.0V569.3h0.451V714.0zM187.85 714.0V568.9h0.451V714.0zM188.30 714.0V574.0h0.451V714.0zM188.75 714.0V573.4h0.451V714.0zM189.20 714.0V622.6h0.451V714.0zM189.65 714.0V575.6h0.451V714.0zM190.10 714.0V570.6h0.451V714.0zM190.55 714.0V564.4h0.451V714.0zM191.01 714.0V566.0h0.451V714.0zM191.46 714.0V571.8h0.451V714.0zM191.91 714.0V565.3h0.451V714.0zM192.36 714.0V618.1h0.451V714.0zM192.81 714.0V574.5h0.451V714.0zM193.26 714.0V575.9h0.451V714.0zM193.71 714.0V579.5h0.451V714.0zM194.17 714.0V576.9h0.451V714.0zM194.62 714.0V583.1h0.451V714.0zM195.07 714.0V587.0h0.451V714.0zM195.52 714.0V619.7h0.451V714.0zM195.97 714.0V585.3h0.451V714.0zM196.42 714.0V584.8h0.451V714.0zM196.87 714.0V583.8h0.451V714.0zM197.33 714.0V584.1h0.451V714.0zM197.78 714.0V585.1h0.451V714.0zM198.23 714.0V600.5h0.451V714.0zM198.68 714.0V631.1h0.451V714.0zM199.13 714.0V579.9h0.451V714.0zM199.58 714.0V578.9h0.451V714.0zM200.04 714.0V577.5h0.451V714.0zM200.49 714.0V577.3h0.451V714.0zM200.94 714.0V575.7h0.451V714.0zM201.39 714.0V579.3h0.451V714.0zM201.84 714.0V618.3h0.451V714.0zM202.29 714.0V574.0h0.451V714.0zM202.74 714.0V570.5h0.451V714.0zM203.20 714.0V564.4h0.451V714.0zM203.65 714.0V565.0h0.451V714.0zM204.10 714.0V565.1h0.451V714.0zM204.55 714.0V580.8h0.451V714.0zM205.00 714.0V599.8h0.451V714.0zM205.45 714.0V553.8h0.451V714.0zM205.90 714.0V547.9h0.451V714.0zM206.36 714.0V543.6h0.451V714.0zM206.81 714.0V544.2h0.451V714.0zM207.26 714.0V543.3h0.451V714.0zM207.71 714.0V561.4h0.451V714.0zM208.16 714.0V604.6h0.451V714.0zM208.61 714.0V542.9h0.451V714.0zM209.07 714.0V539.3h0.451V714.0zM209.52 714.0V538.1h0.451V714.0zM209.97 714.0V537.3h0.451V714.0zM210.42 714.0V537.0h0.451V714.0zM210.87 714.0V552.3h0.451V714.0zM211.32 714.0V591.3h0.451V714.0zM211.77 714.0V529.5h0.451V714.0zM212.23 714.0V519.6h0.451V714.0zM212.68 714.0V512.1h0.451V714.0zM213.13 714.0V507.4h0.451V714.0zM213.58 714.0V497.3h0.451V714.0zM214.03 714.0V502.7h0.451V714.0zM214.48 714.0V572.8h0.451V714.0zM214.93 714.0V504.1h0.451V714.0zM215.39 714.0V500.9h0.451V714.0zM215.84 714.0V509.4h0.451V714.0zM216.29 714.0V519.4h0.451V714.0zM216.74 714.0V522.4h0.451V714.0zM217.19 714.0V554.4h0.451V714.0zM217.64 714.0V595.1h0.451V714.0zM218.10 714.0V521.3h0.451V714.0zM218.55 714.0V516.9h0.451V714.0zM219.00 714.0V521.9h0.451V714.0zM219.45 714.0V536.7h0.451V714.0zM219.90 714.0V539.3h0.451V714.0zM220.35 714.0V573.1h0.451V714.0zM220.80 714.0V588.0h0.451V714.0zM221.26 714.0V556.7h0.451V714.0zM221.71 714.0V547.5h0.451V714.0zM222.16 714.0V553.9h0.451V714.0zM222.61 714.0V556.5h0.451V714.0zM223.06 714.0V555.8h0.451V714.0zM223.51 714.0V583.5h0.451V714.0zM223.96 714.0V610.4h0.451V714.0zM224.42 714.0V567.6h0.451V714.0zM224.87 714.0V565.9h0.451V714.0zM225.32 714.0V566.7h0.451V714.0zM225.77 714.0V565.4h0.451V714.0zM226.22 714.0V572.1h0.451V714.0zM226.67 714.0V583.1h0.451V714.0zM227.13 714.0V620.2h0.451V714.0zM227.58 714.0V569.1h0.451V714.0zM228.03 714.0V565.5h0.451V714.0zM228.48 714.0V568.9h0.451V714.0zM228.93 714.0V564.8h0.451V714.0zM229.38 714.0V569.3h0.451V714.0zM229.83 714.0V594.3h0.451V714.0zM230.29 714.0V629.1h0.451V714.0zM230.74 714.0V575.6h0.451V714.0zM231.19 714.0V576.6h0.451V714.0zM231.64 714.0V579.2h0.451V714.0zM232.09 714.0V580.1h0.451V714.0zM232.54 714.0V579.7h0.451V714.0zM232.99 714.0V600.4h0.451V714.0zM233.45 714.0V619.1h0.451V714.0zM233.90 714.0V586.4h0.451V714.0zM234.35 714.0V581.8h0.451V714.0zM234.80 714.0V586.1h0.451V714.0zM235.25 714.0V587.8h0.451V714.0zM235.70 714.0V585.1h0.451V714.0zM236.15 714.0V609.6h0.451V714.0zM236.61 714.0V622.0h0.451V714.0zM237.06 714.0V586.4h0.451V714.0zM237.51 714.0V587.4h0.451V714.0zM237.96 714.0V582.5h0.451V714.0zM238.41 714.0V589.2h0.451V714.0zM238.86 714.0V585.5h0.451V714.0zM239.32 714.0V603.9h0.451V714.0zM239.77 714.0V619.0h0.451V714.0zM240.22 714.0V589.9h0.451V714.0zM240.67 714.0V585.9h0.451V714.0zM241.12 714.0V582.2h0.451V714.0zM241.57 714.0V584.5h0.451V714.0zM242.02 714.0V585.7h0.451V714.0zM242.48 714.0V607.9h0.451V714.0zM242.93 714.0V627.8h0.451V714.0zM243.38 714.0V582.7h0.451V714.0zM243.83 714.0V574.4h0.451V714.0zM244.28 714.0V576.7h0.451V714.0zM244.73 714.0V575.7h0.451V714.0zM245.18 714.0V578.5h0.451V714.0zM245.64 714.0V602.3h0.451V714.0zM246.09 714.0V629.6h0.451V714.0zM246.54 714.0V573.4h0.451V714.0zM246.99 714.0V569.5h0.451V714.0zM247.44 714.0V571.3h0.451V714.0zM247.89 714.0V569.8h0.451V714.0zM248.35 714.0V567.0h0.451V714.0zM248.80 714.0V576.0h0.451V714.0zM249.25 714.0V614.6h0.451V714.0zM249.70 714.0V569.9h0.451V714.0zM250.15 714.0V570.9h0.451V714.0zM250.60 714.0V572.3h0.451V714.0zM251.05 714.0V574.6h0.451V714.0zM251.51 714.0V576.1h0.451V714.0zM251.96 714.0V585.8h0.451V714.0zM252.41 714.0V620.8h0.451V714.0zM252.86 714.0V585.5h0.451V714.0zM253.31 714.0V581.8h0.451V714.0zM253.76 714.0V583.7h0.451V714.0zM254.21 714.0V584.3h0.451V714.0zM254.67 714.0V585.9h0.451V714.0zM255.12 714.0V599.8h0.451V714.0zM255.57 714.0V633.5h0.451V714.0zM256.02 714.0V581.6h0.451V714.0zM256.47 714.0V577.2h0.451V714.0zM256.92 714.0V578.4h0.451V714.0zM257.38 714.0V582.3h0.451V714.0zM257.83 714.0V583.9h0.451V714.0zM258.28 714.0V596.5h0.451V714.0zM258.73 714.0V626.1h0.451V714.0zM259.18 714.0V585.1h0.451V714.0zM259.63 714.0V576.3h0.451V714.0zM260.08 714.0V576.2h0.451V714.0zM260.54 714.0V580.5h0.451V714.0zM260.99 714.0V583.9h0.451V714.0zM261.44 714.0V596.5h0.451V714.0zM261.89 714.0V634.1h0.451V714.0zM262.34 714.0V584.2h0.451V714.0zM262.79 714.0V579.4h0.451V714.0zM263.24 714.0V579.1h0.451V714.0zM263.70 714.0V582.3h0.451V714.0zM264.15 714.0V581.5h0.451V714.0zM264.60 714.0V602.6h0.451V714.0zM265.05 714.0V626.7h0.451V714.0zM265.50 714.0V585.5h0.451V714.0zM265.95 714.0V581.5h0.451V714.0zM266.41 714.0V579.4h0.451V714.0zM266.86 714.0V581.4h0.451V714.0zM267.31 714.0V580.9h0.451V714.0zM267.76 714.0V587.1h0.451V714.0zM268.21 714.0V618.6h0.451V714.0zM268.66 714.0V582.0h0.451V714.0zM269.11 714.0V581.8h0.451V714.0zM269.57 714.0V582.9h0.451V714.0zM270.02 714.0V580.3h0.451V714.0zM270.47 714.0V587.8h0.451V714.0zM270.92 714.0V592.6h0.451V714.0zM271.37 714.0V622.2h0.451V714.0zM271.82 714.0V584.5h0.451V714.0zM272.27 714.0V581.0h0.451V714.0zM272.73 714.0V578.9h0.451V714.0zM273.18 714.0V578.4h0.451V714.0zM273.63 714.0V583.0h0.451V714.0zM274.08 714.0V591.3h0.451V714.0zM274.53 714.0V612.5h0.451V714.0zM274.98 714.0V574.4h0.451V714.0zM275.43 714.0V568.5h0.451V714.0zM275.89 714.0V562.9h0.451V714.0zM276.34 714.0V562.7h0.451V714.0zM276.79 714.0V560.8h0.451V714.0zM277.24 714.0V589.6h0.451V714.0zM277.69 714.0V610.7h0.451V714.0zM278.14 714.0V562.6h0.451V714.0zM278.60 714.0V556.6h0.451V714.0zM279.05 714.0V563.3h0.451V714.0zM279.50 714.0V568.8h0.451V714.0zM279.95 714.0V572.3h0.451V714.0zM280.40 714.0V583.6h0.451V714.0zM280.85 714.0V611.1h0.451V714.0zM281.30 714.0V567.7h0.451V714.0zM281.76 714.0V563.3h0.451V714.0zM282.21 714.0V561.3h0.451V714.0zM282.66 714.0V560.1h0.451V714.0zM283.11 714.0V564.6h0.451V714.0zM283.56 714.0V579.6h0.451V714.0zM284.01 714.0V614.4h0.451V714.0zM284.46 714.0V555.8h0.451V714.0zM284.92 714.0V553.9h0.451V714.0zM285.37 714.0V548.1h0.451V714.0zM285.82 714.0V546.5h0.451V714.0zM286.27 714.0V550.9h0.451V714.0zM286.72 714.0V566.1h0.451V714.0zM287.17 714.0V592.3h0.451V714.0zM287.63 714.0V547.7h0.451V714.0zM288.08 714.0V541.0h0.451V714.0zM288.53 714.0V544.7h0.451V714.0zM288.98 714.0V544.5h0.451V714.0zM289.43 714.0V543.3h0.451V714.0zM289.88 714.0V559.8h0.451V714.0zM290.33 714.0V605.1h0.451V714.0zM290.79 714.0V540.4h0.451V714.0zM291.24 714.0V530.9h0.451V714.0zM291.69 714.0V524.9h0.451V714.0zM292.14 714.0V524.4h0.451V714.0zM292.59 714.0V524.3h0.451V714.0zM293.04 714.0V542.3h0.451V714.0zM293.49 714.0V583.1h0.451V714.0zM293.95 714.0V525.2h0.451V714.0zM294.40 714.0V509.0h0.451V714.0zM294.85 714.0V513.8h0.451V714.0zM295.30 714.0V505.4h0.451V714.0zM295.75 714.0V505.6h0.451V714.0zM296.20 714.0V532.8h0.451V714.0zM296.66 714.0V553.3h0.451V714.0zM297.11 714.0V505.8h0.451V714.0zM297.56 714.0V499.1h0.451V714.0zM298.01 714.0V497.4h0.451V714.0zM298.46 714.0V488.9h0.451V714.0zM298.91 714.0V497.1h0.451V714.0zM299.36 714.0V527.1h0.451V714.0zM299.82 714.0V544.5h0.451V714.0zM300.27 714.0V499.0h0.451V714.0zM300.72 714.0V486.9h0.451V714.0zM301.17 714.0V493.0h0.451V714.0zM301.62 714.0V493.5h0.451V714.0zM302.07 714.0V500.3h0.451V714.0zM302.52 714.0V510.0h0.451V714.0zM302.98 714.0V587.2h0.451V714.0zM303.43 714.0V516.0h0.451V714.0zM303.88 714.0V505.9h0.451V714.0zM304.33 714.0V507.7h0.451V714.0zM304.78 714.0V512.6h0.451V714.0zM305.23 714.0V517.6h0.451V714.0zM305.69 714.0V542.0h0.451V714.0zM306.14 714.0V591.2h0.451V714.0zM306.59 714.0V517.3h0.451V714.0zM307.04 714.0V511.6h0.451V714.0zM307.49 714.0V520.2h0.451V714.0zM307.94 714.0V514.2h0.451V714.0zM308.39 714.0V518.1h0.451V714.0zM308.85 714.0V542.3h0.451V714.0zM309.30 714.0V584.5h0.451V714.0zM309.75 714.0V516.4h0.451V714.0zM310.20 714.0V514.2h0.451V714.0zM310.65 714.0V516.2h0.451V714.0zM311.10 714.0V517.2h0.451V714.0zM311.55 714.0V520.4h0.451V714.0zM312.01 714.0V555.3h0.451V714.0zM312.46 714.0V583.3h0.451V714.0zM312.91 714.0V515.0h0.451V714.0zM313.36 714.0V515.6h0.451V714.0zM313.81 714.0V515.1h0.451V714.0zM314.26 714.0V514.3h0.451V714.0zM314.71 714.0V519.1h0.451V714.0zM315.17 714.0V515.8h0.451V714.0zM315.62 714.0V563.9h0.451V714.0zM316.07 714.0V513.2h0.451V714.0zM316.52 714.0V502.8h0.451V714.0zM316.97 714.0V501.3h0.451V714.0zM317.42 714.0V506.4h0.451V714.0zM317.88 714.0V505.5h0.451V714.0zM318.33 714.0V520.4h0.451V714.0zM318.78 714.0V563.2h0.451V714.0zM319.23 714.0V505.0h0.451V714.0zM319.68 714.0V501.3h0.451V714.0zM320.13 714.0V502.8h0.451V714.0zM320.58 714.0V494.1h0.451V714.0zM321.04 714.0V503.9h0.451V714.0zM321.49 714.0V525.3h0.451V714.0zM321.94 714.0V560.3h0.451V714.0zM322.39 714.0V497.2h0.451V714.0zM322.84 714.0V499.3h0.451V714.0zM323.29 714.0V495.8h0.451V714.0zM323.74 714.0V502.8h0.451V714.0zM324.20 714.0V503.0h0.451V714.0zM324.65 714.0V538.5h0.451V714.0zM325.10 714.0V582.3h0.451V714.0zM325.55 714.0V504.0h0.451V714.0zM326.00 714.0V502.9h0.451V714.0zM326.45 714.0V505.1h0.451V714.0zM326.91 714.0V498.1h0.451V714.0zM327.36 714.0V497.5h0.451V714.0zM327.81 714.0V536.4h0.451V714.0zM328.26 714.0V582.1h0.451V714.0zM328.71 714.0V501.7h0.451V714.0zM329.16 714.0V496.2h0.451V714.0zM329.61 714.0V492.8h0.451V714.0zM330.07 714.0V493.0h0.451V714.0zM330.52 714.0V490.0h0.451V714.0zM330.97 714.0V494.2h0.451V714.0zM331.42 714.0V562.9h0.451V714.0zM331.87 714.0V490.2h0.451V714.0zM332.32 714.0V484.3h0.451V714.0zM332.77 714.0V484.1h0.451V714.0zM333.23 714.0V489.1h0.451V714.0zM333.68 714.0V488.2h0.451V714.0zM334.13 714.0V518.5h0.451V714.0zM334.58 714.0V551.6h0.451V714.0zM335.03 714.0V481.7h0.451V714.0zM335.48 714.0V481.7h0.451V714.0zM335.94 714.0V479.9h0.451V714.0zM336.39 714.0V481.5h0.451V714.0zM336.84 714.0V480.9h0.451V714.0zM337.29 714.0V479.1h0.451V714.0zM337.74 714.0V535.0h0.451V714.0zM338.19 714.0V484.7h0.451V714.0zM338.64 714.0V476.4h0.451V714.0zM339.10 714.0V466.8h0.451V714.0zM339.55 714.0V465.9h0.451V714.0zM340.00 714.0V472.5h0.451V714.0zM340.45 714.0V516.6h0.451V714.0zM340.90 714.0V531.2h0.451V714.0zM341.35 714.0V466.6h0.451V714.0zM341.80 714.0V457.2h0.451V714.0zM342.26 714.0V454.3h0.451V714.0zM342.71 714.0V464.8h0.451V714.0zM343.16 714.0V467.8h0.451V714.0zM343.61 714.0V487.3h0.451V714.0zM344.06 714.0V522.9h0.451V714.0zM344.51 714.0V466.8h0.451V714.0zM344.97 714.0V464.2h0.451V714.0zM345.42 714.0V466.9h0.451V714.0zM345.87 714.0V477.2h0.451V714.0zM346.32 714.0V482.5h0.451V714.0zM346.77 714.0V499.9h0.451V714.0zM347.22 714.0V548.4h0.451V714.0zM347.67 714.0V493.2h0.451V714.0zM348.13 714.0V492.5h0.451V714.0zM348.58 714.0V496.7h0.451V714.0zM349.03 714.0V499.6h0.451V714.0zM349.48 714.0V499.7h0.451V714.0zM349.93 714.0V537.2h0.451V714.0zM350.38 714.0V573.2h0.451V714.0zM350.83 714.0V508.9h0.451V714.0zM351.29 714.0V506.9h0.451V714.0zM351.74 714.0V510.6h0.451V714.0zM352.19 714.0V508.2h0.451V714.0zM352.64 714.0V516.0h0.451V714.0zM353.09 714.0V532.5h0.451V714.0zM353.54 714.0V566.0h0.451V714.0zM353.99 714.0V507.7h0.451V714.0zM354.45 714.0V505.3h0.451V714.0zM354.90 714.0V507.4h0.451V714.0zM355.35 714.0V508.9h0.451V714.0zM355.80 714.0V503.0h0.451V714.0zM356.25 714.0V532.4h0.451V714.0zM356.70 714.0V574.4h0.451V714.0zM357.16 714.0V503.8h0.451V714.0zM357.61 714.0V497.9h0.451V714.0zM358.06 714.0V497.5h0.451V714.0zM358.51 714.0V492.9h0.451V714.0zM358.96 714.0V490.1h0.451V714.0zM359.41 714.0V536.2h0.451V714.0zM359.86 714.0V564.5h0.451V714.0zM360.32 714.0V488.6h0.451V714.0zM360.77 714.0V485.2h0.451V714.0zM361.22 714.0V475.2h0.451V714.0zM361.67 714.0V475.0h0.451V714.0zM362.12 714.0V477.0h0.451V714.0zM362.57 714.0V476.5h0.451V714.0zM363.02 714.0V536.6h0.451V714.0zM363.48 714.0V473.2h0.451V714.0zM363.93 714.0V462.6h0.451V714.0zM364.38 714.0V452.3h0.451V714.0zM364.83 714.0V457.7h0.451V714.0zM365.28 714.0V448.4h0.451V714.0zM365.73 714.0V491.3h0.451V714.0zM366.19 714.0V535.5h0.451V714.0zM366.64 714.0V440.7h0.451V714.0zM367.09 714.0V422.7h0.451V714.0zM367.54 714.0V429.2h0.451V714.0zM367.99 714.0V423.1h0.451V714.0zM368.44 714.0V423.6h0.451V714.0zM368.89 714.0V456.7h0.451V714.0zM369.35 714.0V527.0h0.451V714.0zM369.80 714.0V401.5h0.451V714.0zM370.25 714.0V374.5h0.451V714.0zM370.70 714.0V374.5h0.451V714.0zM371.15 714.0V380.4h0.451V714.0zM371.60 714.0V379.4h0.451V714.0zM372.05 714.0V422.3h0.451V714.0zM372.51 714.0V477.6h0.451V714.0zM372.96 714.0V403.0h0.451V714.0zM373.41 714.0V408.0h0.451V714.0zM373.86 714.0V399.5h0.451V714.0zM374.31 714.0V408.8h0.451V714.0zM374.76 714.0V413.5h0.451V714.0zM375.22 714.0V460.6h0.451V714.0zM375.67 714.0V519.4h0.451V714.0zM376.12 714.0V411.7h0.451V714.0zM376.57 714.0V390.4h0.451V714.0zM377.02 714.0V398.1h0.451V714.0zM377.47 714.0V378.8h0.451V714.0zM377.92 714.0V390.8h0.451V714.0zM378.38 714.0V396.7h0.451V714.0zM378.83 714.0V488.3h0.451V714.0zM379.28 714.0V396.8h0.451V714.0zM379.73 714.0V387.8h0.451V714.0zM380.18 714.0V409.1h0.451V714.0zM380.63 714.0V423.5h0.451V714.0zM381.08 714.0V452.4h0.451V714.0zM381.54 714.0V461.3h0.451V714.0zM381.99 714.0V550.7h0.451V714.0zM382.44 714.0V472.7h0.451V714.0zM382.89 714.0V474.8h0.451V714.0zM383.34 714.0V492.1h0.451V714.0zM383.79 714.0V502.9h0.451V714.0zM384.25 714.0V512.3h0.451V714.0zM384.70 714.0V534.3h0.451V714.0zM385.15 714.0V560.5h0.451V714.0zM385.60 714.0V516.9h0.451V714.0zM386.05 714.0V513.4h0.451V714.0zM386.50 714.0V508.2h0.451V714.0zM386.95 714.0V515.6h0.451V714.0zM387.41 714.0V523.0h0.451V714.0zM387.86 714.0V544.1h0.451V714.0zM388.31 714.0V598.0h0.451V714.0zM388.76 714.0V522.1h0.451V714.0zM389.21 714.0V515.3h0.451V714.0zM389.66 714.0V518.8h0.451V714.0zM390.11 714.0V518.4h0.451V714.0zM390.57 714.0V529.9h0.451V714.0zM391.02 714.0V546.3h0.451V714.0zM391.47 714.0V569.0h0.451V714.0zM391.92 714.0V530.3h0.451V714.0zM392.37 714.0V526.6h0.451V714.0zM392.82 714.0V525.5h0.451V714.0zM393.27 714.0V527.5h0.451V714.0zM393.73 714.0V530.1h0.451V714.0zM394.18 714.0V549.7h0.451V714.0zM394.63 714.0V591.5h0.451V714.0zM395.08 714.0V556.8h0.451V714.0zM395.53 714.0V561.3h0.451V714.0zM395.98 714.0V570.1h0.451V714.0zM396.44 714.0V576.8h0.451V714.0zM396.89 714.0V583.1h0.451V714.0zM397.34 714.0V608.1h0.451V714.0zM397.79 714.0V627.2h0.451V714.0zM398.24 714.0V600.2h0.451V714.0zM398.69 714.0V602.4h0.451V714.0zM399.14 714.0V607.2h0.451V714.0zM399.60 714.0V610.2h0.451V714.0zM400.05 714.0V615.8h0.451V714.0zM400.50 714.0V616.6h0.451V714.0zM400.95 714.0V651.5h0.451V714.0zM401.40 714.0V625.5h0.451V714.0zM401.85 714.0V622.7h0.451V714.0zM402.30 714.0V620.8h0.451V714.0zM402.76 714.0V620.8h0.451V714.0zM403.21 714.0V622.9h0.451V714.0zM403.66 714.0V633.6h0.451V714.0zM404.11 714.0V648.4h0.451V714.0zM404.56 714.0V622.5h0.451V714.0zM405.01 714.0V619.2h0.451V714.0zM405.47 714.0V619.4h0.451V714.0zM405.92 714.0V622.2h0.451V714.0zM406.37 714.0V619.0h0.451V714.0zM406.82 714.0V628.1h0.451V714.0zM407.27 714.0V645.9h0.451V714.0zM407.72 714.0V621.0h0.451V714.0zM408.17 714.0V617.1h0.451V714.0zM408.63 714.0V616.1h0.451V714.0zM409.08 714.0V616.2h0.451V714.0zM409.53 714.0V612.1h0.451V714.0zM409.98 714.0V625.2h0.451V714.0zM410.43 714.0V636.2h0.451V714.0zM410.88 714.0V611.1h0.451V714.0zM411.33 714.0V608.0h0.451V714.0zM411.79 714.0V603.5h0.451V714.0zM412.24 714.0V604.5h0.451V714.0zM412.69 714.0V602.8h0.451V714.0zM413.14 714.0V617.2h0.451V714.0zM413.59 714.0V631.3h0.451V714.0zM414.04 714.0V601.8h0.451V714.0zM414.50 714.0V603.4h0.451V714.0zM414.95 714.0V601.9h0.451V714.0zM415.40 714.0V604.1h0.451V714.0zM415.85 714.0V605.9h0.451V714.0zM416.30 714.0V614.6h0.451V714.0zM416.75 714.0V645.9h0.451V714.0zM417.20 714.0V618.5h0.451V714.0zM417.66 714.0V622.9h0.451V714.0zM418.11 714.0V629.0h0.451V714.0zM418.56 714.0V632.9h0.451V714.0zM419.01 714.0V638.3h0.451V714.0zM419.46 714.0V649.7h0.451V714.0zM419.91 714.0V669.5h0.451V714.0zM420.36 714.0V648.3h0.451V714.0zM420.82 714.0V649.0h0.451V714.0zM421.27 714.0V650.8h0.451V714.0zM421.72 714.0V653.2h0.451V714.0zM422.17 714.0V654.7h0.451V714.0zM422.62 714.0V665.1h0.451V714.0zM423.07 714.0V678.5h0.451V714.0zM423.53 714.0V660.8h0.451V714.0zM423.98 714.0V661.1h0.451V714.0zM424.43 714.0V661.4h0.451V714.0zM424.88 714.0V662.8h0.451V714.0zM425.33 714.0V662.3h0.451V714.0zM425.78 714.0V672.6h0.451V714.0zM426.23 714.0V681.3h0.451V714.0zM426.69 714.0V665.2h0.451V714.0zM427.14 714.0V664.0h0.451V714.0zM427.59 714.0V666.0h0.451V714.0zM428.04 714.0V666.9h0.451V714.0zM428.49 714.0V666.6h0.451V714.0zM428.94 714.0V674.1h0.451V714.0zM429.39 714.0V679.7h0.451V714.0zM429.85 714.0V669.7h0.451V714.0zM430.30 714.0V668.0h0.451V714.0zM430.75 714.0V668.7h0.451V714.0zM431.20 714.0V669.1h0.451V714.0zM431.65 714.0V668.7h0.451V714.0zM432.10 714.0V673.9h0.451V714.0zM432.55 714.0V682.6h0.451V714.0zM433.01 714.0V671.1h0.451V714.0zM433.46 714.0V670.4h0.451V714.0zM433.91 714.0V668.5h0.451V714.0zM434.36 714.0V670.1h0.451V714.0zM434.81 714.0V669.8h0.451V714.0zM435.26 714.0V671.5h0.451V714.0zM435.72 714.0V686.6h0.451V714.0zM436.17 714.0V672.5h0.451V714.0zM436.62 714.0V670.3h0.451V714.0zM437.07 714.0V670.7h0.451V714.0zM437.52 714.0V671.1h0.451V714.0zM437.97 714.0V673.9h0.451V714.0zM438.42 714.0V678.1h0.451V714.0zM438.88 714.0V688.8h0.451V714.0zM439.33 714.0V675.5h0.451V714.0zM439.78 714.0V674.5h0.451V714.0zM440.23 714.0V674.2h0.451V714.0zM440.68 714.0V676.8h0.451V714.0zM441.13 714.0V677.0h0.451V714.0zM441.58 714.0V676.9h0.451V714.0zM442.04 714.0V691.8h0.451V714.0zM442.49 714.0V678.3h0.451V714.0zM442.94 714.0V677.7h0.451V714.0zM443.39 714.0V678.9h0.451V714.0zM443.84 714.0V680.2h0.451V714.0zM444.29 714.0V679.2h0.451V714.0zM444.75 714.0V680.7h0.451V714.0zM445.20 714.0V689.1h0.451V714.0zM445.65 714.0V681.5h0.451V714.0zM446.10 714.0V679.7h0.451V714.0zM446.55 714.0V680.9h0.451V714.0zM447.00 714.0V681.1h0.451V714.0zM447.45 714.0V680.9h0.451V714.0zM447.91 714.0V686.2h0.451V714.0zM448.36 714.0V692.8h0.451V714.0zM448.81 714.0V682.4h0.451V714.0zM449.26 714.0V681.9h0.451V714.0zM449.71 714.0V682.5h0.451V714.0zM450.16 714.0V682.9h0.451V714.0zM450.61 714.0V682.6h0.451V714.0zM451.07 714.0V688.3h0.451V714.0zM451.52 714.0V691.7h0.451V714.0zM451.97 714.0V684.4h0.451V714.0zM452.42 714.0V682.0h0.451V714.0zM452.87 714.0V683.0h0.451V714.0zM453.32 714.0V682.4h0.451V714.0zM453.78 714.0V682.7h0.451V714.0zM454.23 714.0V686.5h0.451V714.0zM454.68 714.0V692.0h0.451V714.0zM455.13 714.0V682.8h0.451V714.0zM455.58 714.0V681.3h0.451V714.0zM456.03 714.0V681.5h0.451V714.0zM456.48 714.0V681.7h0.451V714.0zM456.94 714.0V682.5h0.451V714.0zM457.39 714.0V684.4h0.451V714.0zM457.84 714.0V690.7h0.451V714.0zM458.29 714.0V681.1h0.451V714.0zM458.74 714.0V680.1h0.451V714.0zM459.19 714.0V680.2h0.451V714.0zM459.64 714.0V679.6h0.451V714.0zM460.10 714.0V680.2h0.451V714.0zM460.55 714.0V683.3h0.451V714.0zM461.00 714.0V690.5h0.451V714.0zM461.45 714.0V678.5h0.451V714.0zM461.90 714.0V677.9h0.451V714.0zM462.35 714.0V676.3h0.451V714.0zM462.81 714.0V677.3h0.451V714.0zM463.26 714.0V676.0h0.451V714.0zM463.71 714.0V678.9h0.451V714.0zM464.16 714.0V688.2h0.451V714.0zM464.61 714.0V675.9h0.451V714.0zM465.06 714.0V674.0h0.451V714.0zM465.51 714.0V676.1h0.451V714.0zM465.97 714.0V675.5h0.451V714.0zM466.42 714.0V676.1h0.451V714.0zM466.87 714.0V678.0h0.451V714.0zM467.32 714.0V687.0h0.451V714.0zM467.77 714.0V678.7h0.451V714.0zM468.22 714.0V677.2h0.451V714.0zM468.67 714.0V677.7h0.451V714.0zM469.13 714.0V679.8h0.451V714.0zM469.58 714.0V679.5h0.451V714.0zM470.03 714.0V685.8h0.451V714.0zM470.48 714.0V690.1h0.451V714.0zM470.93 714.0V682.2h0.451V714.0zM471.38 714.0V680.4h0.451V714.0zM471.83 714.0V681.9h0.451V714.0zM472.29 714.0V681.8h0.451V714.0zM472.74 714.0V683.6h0.451V714.0zM473.19 714.0V683.7h0.451V714.0zM473.64 714.0V694.7h0.451V714.0zM474.09 714.0V684.6h0.451V714.0zM474.54 714.0V684.4h0.451V714.0zM475.00 714.0V685.3h0.451V714.0zM475.45 714.0V685.8h0.451V714.0zM475.90 714.0V686.5h0.451V714.0zM476.35 714.0V687.4h0.451V714.0zM476.80 714.0V696.4h0.451V714.0zM477.25 714.0V687.2h0.451V714.0zM477.70 714.0V687.7h0.451V714.0zM478.16 714.0V687.4h0.451V714.0zM478.61 714.0V687.9h0.451V714.0zM479.06 714.0V688.8h0.451V714.0zM479.51 714.0V690.4h0.451V714.0zM479.96 714.0V695.4h0.451V714.0zM480.41 714.0V690.2h0.451V714.0zM480.86 714.0V688.6h0.451V714.0zM481.32 714.0V689.4h0.451V714.0zM481.77 714.0V690.2h0.451V714.0zM482.22 714.0V690.2h0.451V714.0zM482.67 714.0V691.0h0.451V714.0zM483.12 714.0V698.7h0.451V714.0zM483.57 714.0V691.4h0.451V714.0zM484.03 714.0V691.4h0.451V714.0zM484.48 714.0V692.1h0.451V714.0zM484.93 714.0V692.1h0.451V714.0zM485.38 714.0V693.5h0.451V714.0zM485.83 714.0V696.1h0.451V714.0zM486.28 714.0V698.6h0.451V714.0zM486.73 714.0V694.5h0.451V714.0zM487.19 714.0V694.2h0.451V714.0zM487.64 714.0V695.0h0.451V714.0zM488.09 714.0V695.9h0.451V714.0zM488.54 714.0V696.5h0.451V714.0zM488.99 714.0V698.0h0.451V714.0zM489.44 714.0V702.3h0.451V714.0zM489.89 714.0V697.2h0.451V714.0zM490.35 714.0V697.8h0.451V714.0zM490.80 714.0V698.0h0.451V714.0zM491.25 714.0V698.0h0.451V714.0zM491.70 714.0V698.8h0.451V714.0zM492.15 714.0V700.8h0.451V714.0zM492.60 714.0V704.1h0.451V714.0zM493.06 714.0V699.4h0.451V714.0zM493.51 714.0V698.9h0.451V714.0zM493.96 714.0V699.1h0.451V714.0zM494.41 714.0V699.7h0.451V714.0zM494.86 714.0V699.8h0.451V714.0zM495.31 714.0V702.4h0.451V714.0zM495.76 714.0V704.9h0.451V714.0zM496.22 714.0V700.9h0.451V714.0zM496.67 714.0V700.7h0.451V714.0zM497.12 714.0V700.4h0.451V714.0zM497.57 714.0V700.2h0.451V714.0zM498.02 714.0V700.3h0.451V714.0zM498.47 714.0V702.3h0.451V714.0zM498.92 714.0V704.5h0.451V714.0zM499.38 714.0V700.3h0.451V714.0zM499.83 714.0V699.9h0.451V714.0zM500.28 714.0V699.5h0.451V714.0zM500.73 714.0V699.7h0.451V714.0zM501.18 714.0V699.4h0.451V714.0zM501.63 714.0V701.5h0.451V714.0zM502.09 714.0V704.8h0.451V714.0zM502.54 714.0V699.5h0.451V714.0zM502.99 714.0V699.0h0.451V714.0zM503.44 714.0V699.0h0.451V714.0zM503.89 714.0V699.2h0.451V714.0zM504.34 714.0V698.7h0.451V714.0zM504.79 714.0V700.3h0.451V714.0zM505.25 714.0V704.0h0.451V714.0zM505.70 714.0V698.9h0.451V714.0zM506.15 714.0V697.9h0.451V714.0zM506.60 714.0V697.9h0.451V714.0zM507.05 714.0V697.8h0.451V714.0zM507.50 714.0V697.7h0.451V714.0zM507.95 714.0V700.2h0.451V714.0zM508.41 714.0V704.0h0.451V714.0zM508.86 714.0V697.4h0.451V714.0zM509.31 714.0V696.9h0.451V714.0zM509.76 714.0V696.8h0.451V714.0zM510.21 714.0V697.4h0.451V714.0zM510.66 714.0V696.8h0.451V714.0zM511.11 714.0V698.4h0.451V714.0zM511.57 714.0V702.2h0.451V714.0zM512.02 714.0V697.1h0.451V714.0zM512.47 714.0V696.9h0.451V714.0zM512.92 714.0V697.0h0.451V714.0zM513.37 714.0V697.5h0.451V714.0zM513.82 714.0V697.7h0.451V714.0zM514.28 714.0V698.4h0.451V714.0zM514.73 714.0V702.2h0.451V714.0zM515.18 714.0V698.5h0.451V714.0zM515.63 714.0V698.0h0.451V714.0zM516.08 714.0V698.3h0.451V714.0zM516.53 714.0V698.4h0.451V714.0zM516.98 714.0V699.0h0.451V714.0zM517.44 714.0V700.3h0.451V714.0zM517.89 714.0V704.4h0.451V714.0zM518.34 714.0V699.5h0.451V714.0zM518.79 714.0V700.0h0.451V714.0zM519.24 714.0V700.0h0.451V714.0zM519.69 714.0V700.4h0.451V714.0zM520.14 714.0V700.4h0.451V714.0zM520.60 714.0V701.0h0.451V714.0zM521.05 714.0V704.3h0.451V714.0zM521.50 714.0V701.2h0.451V714.0zM521.95 714.0V700.9h0.451V714.0zM522.40 714.0V700.6h0.451V714.0zM522.85 714.0V701.0h0.451V714.0zM523.31 714.0V701.2h0.451V714.0zM523.76 714.0V701.2h0.451V714.0zM524.21 714.0V704.8h0.451V714.0zM524.66 714.0V701.6h0.451V714.0zM525.11 714.0V701.2h0.451V714.0zM525.56 714.0V701.5h0.451V714.0zM526.01 714.0V701.5h0.451V714.0zM526.47 714.0V701.9h0.451V714.0zM526.92 714.0V703.9h0.451V714.0zM527.37 714.0V706.5h0.451V714.0zM527.82 714.0V702.0h0.451V714.0zM528.27 714.0V702.2h0.451V714.0zM528.72 714.0V702.4h0.451V714.0zM529.17 714.0V702.5h0.451V714.0zM529.63 714.0V702.0h0.451V714.0zM530.08 714.0V704.0h0.451V714.0zM530.53 714.0V706.5h0.451V714.0zM530.98 714.0V701.3h0.451V714.0zM531.43 714.0V700.7h0.451V714.0zM531.88 714.0V700.3h0.451V714.0zM532.34 714.0V700.1h0.451V714.0zM532.79 714.0V700.4h0.451V714.0zM533.24 714.0V701.4h0.451V714.0zM533.69 714.0V703.2h0.451V714.0zM534.14 714.0V699.1h0.451V714.0zM534.59 714.0V698.9h0.451V714.0zM535.04 714.0V698.0h0.451V714.0zM535.50 714.0V697.8h0.451V714.0zM535.95 714.0V697.6h0.451V714.0zM536.40 714.0V700.4h0.451V714.0zM536.85 714.0V704.0h0.451V714.0zM537.30 714.0V697.0h0.451V714.0zM537.75 714.0V696.2h0.451V714.0zM538.20 714.0V696.2h0.451V714.0zM538.66 714.0V696.1h0.451V714.0zM539.11 714.0V696.4h0.451V714.0zM539.56 714.0V699.6h0.451V714.0zM540.01 714.0V701.5h0.451V714.0zM540.46 714.0V696.8h0.451V714.0zM540.91 714.0V696.1h0.451V714.0zM541.37 714.0V695.9h0.451V714.0zM541.82 714.0V696.4h0.451V714.0zM542.27 714.0V696.3h0.451V714.0zM542.72 714.0V697.1h0.451V714.0zM543.17 714.0V702.2h0.451V714.0zM543.62 714.0V695.7h0.451V714.0zM544.07 714.0V695.5h0.451V714.0zM544.53 714.0V695.2h0.451V714.0zM544.98 714.0V696.0h0.451V714.0zM545.43 714.0V697.0h0.451V714.0zM545.88 714.0V698.8h0.451V714.0zM546.33 714.0V702.8h0.451V714.0zM546.78 714.0V697.6h0.451V714.0zM547.23 714.0V697.6h0.451V714.0zM547.69 714.0V698.2h0.451V714.0zM548.14 714.0V698.2h0.451V714.0zM548.59 714.0V699.3h0.451V714.0zM549.04 714.0V701.5h0.451V714.0zM549.49 714.0V705.1h0.451V714.0zM549.94 714.0V700.0h0.451V714.0zM550.39 714.0V699.8h0.451V714.0zM550.85 714.0V700.8h0.451V714.0zM551.30 714.0V700.8h0.451V714.0zM551.75 714.0V701.0h0.451V714.0zM552.20 714.0V703.0h0.451V714.0zM552.65 714.0V705.6h0.451V714.0zM553.10 714.0V701.3h0.451V714.0zM553.56 714.0V701.5h0.451V714.0zM554.01 714.0V701.1h0.451V714.0zM554.46 714.0V701.8h0.451V714.0zM554.91 714.0V702.1h0.451V714.0zM555.36 714.0V703.0h0.451V714.0zM555.81 714.0V705.8h0.451V714.0zM556.26 714.0V702.7h0.451V714.0zM556.72 714.0V702.0h0.451V714.0zM557.17 714.0V702.2h0.451V714.0zM557.62 714.0V702.4h0.451V714.0zM558.07 714.0V702.8h0.451V714.0zM558.52 714.0V704.3h0.451V714.0zM558.97 714.0V705.9h0.451V714.0zM559.42 714.0V703.6h0.451V714.0zM559.88 714.0V702.8h0.451V714.0zM560.33 714.0V703.2h0.451V714.0zM560.78 714.0V703.1h0.451V714.0zM561.23 714.0V703.1h0.451V714.0zM561.68 714.0V703.7h0.451V714.0zM562.13 714.0V705.7h0.451V714.0zM562.59 714.0V702.9h0.451V714.0zM563.04 714.0V702.4h0.451V714.0zM563.49 714.0V702.3h0.451V714.0zM563.94 714.0V702.2h0.451V714.0zM564.39 714.0V702.2h0.451V714.0zM564.84 714.0V703.6h0.451V714.0zM565.29 714.0V706.6h0.451V714.0zM565.75 714.0V702.0h0.451V714.0zM566.20 714.0V701.6h0.451V714.0zM566.65 714.0V701.5h0.451V714.0zM567.10 714.0V701.9h0.451V714.0zM567.55 714.0V701.8h0.451V714.0zM568.00 714.0V702.4h0.451V714.0zM568.45 714.0V705.7h0.451V714.0zM568.91 714.0V701.4h0.451V714.0zM569.36 714.0V701.4h0.451V714.0zM569.81 714.0V701.4h0.451V714.0zM570.26 714.0V701.4h0.451V714.0zM570.71 714.0V701.2h0.451V714.0zM571.16 714.0V703.2h0.451V714.0zM571.62 714.0V705.9h0.451V714.0zM572.07 714.0V701.5h0.451V714.0zM572.52 714.0V700.9h0.451V714.0zM572.97 714.0V701.1h0.451V714.0zM573.42 714.0V701.1h0.451V714.0zM573.87 714.0V701.3h0.451V714.0zM574.32 714.0V701.3h0.451V714.0zM574.78 714.0V704.3h0.451V714.0zM575.23 714.0V701.3h0.451V714.0zM575.68 714.0V700.7h0.451V714.0zM576.13 714.0V700.3h0.451V714.0zM576.58 714.0V700.5h0.451V714.0zM577.03 714.0V700.7h0.451V714.0zM577.48 714.0V702.9h0.451V714.0zM577.94 714.0V705.8h0.451V714.0zM578.39 714.0V701.4h0.451V714.0zM578.84 714.0V701.0h0.451V714.0zM579.29 714.0V701.3h0.451V714.0zM579.74 714.0V701.3h0.451V714.0zM580.19 714.0V701.2h0.451V714.0zM580.65 714.0V702.5h0.451V714.0zM581.10 714.0V705.5h0.451V714.0zM581.55 714.0V702.0h0.451V714.0zM582.00 714.0V701.5h0.451V714.0zM582.45 714.0V701.7h0.451V714.0zM582.90 714.0V701.7h0.451V714.0zM583.35 714.0V701.8h0.451V714.0zM583.81 714.0V703.1h0.451V714.0zM584.26 714.0V705.9h0.451V714.0zM584.71 714.0V702.6h0.451V714.0zM585.16 714.0V702.0h0.451V714.0zM585.61 714.0V702.2h0.451V714.0zM586.06 714.0V703.0h0.451V714.0zM586.51 714.0V703.8h0.451V714.0zM586.97 714.0V704.8h0.451V714.0zM587.42 714.0V707.9h0.451V714.0zM587.87 714.0V705.9h0.451V714.0zM588.32 714.0V706.1h0.451V714.0zM588.77 714.0V706.9h0.451V714.0zM589.22 714.0V707.5h0.451V714.0zM589.67 714.0V708.0h0.451V714.0zM590.13 714.0V708.6h0.451V714.0zM590.58 714.0V710.3h0.451V714.0zM591.03 714.0V708.6h0.451V714.0zM591.48 714.0V708.5h0.451V714.0zM591.93 714.0V708.7h0.451V714.0zM592.38 714.0V708.8h0.451V714.0zM592.84 714.0V708.7h0.451V714.0zM593.29 714.0V707.6h0.451V714.0zM593.74 714.0V708.1h0.451V714.0zM594.19 714.0V704.7h0.451V714.0zM594.64 714.0V706.3h0.451V714.0zM595.09 714.0V708.6h0.451V714.0zM595.54 714.0V709.8h0.451V714.0zM596.00 714.0V710.0h0.451V714.0zM596.45 714.0V710.0h0.451V714.0zM596.90 714.0V711.5h0.451V714.0zM597.35 714.0V710.2h0.451V714.0zM597.80 714.0V710.1h0.451V714.0zM598.25 714.0V710.2h0.451V714.0zM598.70 714.0V710.3h0.451V714.0zM599.16 714.0V710.4h0.451V714.0zM599.61 714.0V710.7h0.451V714.0zM600.06 714.0V711.4h0.451V714.0zM600.51 714.0V710.7h0.451V714.0zM600.96 714.0V710.6h0.451V714.0zM601.41 714.0V710.7h0.451V714.0zM601.87 714.0V710.7h0.451V714.0zM602.32 714.0V710.9h0.451V714.0zM602.77 714.0V711.2h0.451V714.0zM603.22 714.0V712.1h0.451V714.0zM603.67 714.0V711.1h0.451V714.0zM604.12 714.0V711.1h0.451V714.0zM604.57 714.0V711.1h0.451V714.0zM605.03 714.0V711.2h0.451V714.0zM605.48 714.0V711.3h0.451V714.0zM605.93 714.0V711.7h0.451V714.0zM606.38 714.0V712.2h0.451V714.0zM606.83 714.0V711.5h0.451V714.0zM607.28 714.0V711.5h0.451V714.0zM607.73 714.0V711.5h0.451V714.0zM608.19 714.0V711.5h0.451V714.0zM608.64 714.0V711.6h0.451V714.0zM609.09 714.0V712.0h0.451V714.0zM609.54 714.0V712.2h0.451V714.0zM609.99 714.0V711.7h0.451V714.0zM610.44 714.0V711.6h0.451V714.0zM610.90 714.0V711.6h0.451V714.0zM611.35 714.0V711.7h0.451V714.0zM611.80 714.0V711.7h0.451V714.0zM612.25 714.0V711.9h0.451V714.0zM612.70 714.0V712.3h0.451V714.0zM613.15 714.0V711.8h0.451V714.0zM613.60 714.0V711.8h0.451V714.0zM614.06 714.0V711.8h0.451V714.0zM614.51 714.0V711.9h0.451V714.0zM614.96 714.0V711.9h0.451V714.0zM615.41 714.0V712.0h0.451V714.0zM615.86 714.0V712.6h0.451V714.0zM616.31 714.0V712.0h0.451V714.0zM616.76 714.0V711.9h0.451V714.0zM617.22 714.0V711.9h0.451V714.0zM617.67 714.0V712.0h0.451V714.0zM618.12 714.0V711.9h0.451V714.0zM618.57 714.0V712.2h0.451V714.0zM619.02 714.0V712.6h0.451V714.0zM619.47 714.0V712.0h0.451V714.0zM619.93 714.0V711.9h0.451V714.0zM620.38 714.0V711.9h0.451V714.0zM620.83 714.0V711.9h0.451V714.0zM621.28 714.0V711.9h0.451V714.0zM621.73 714.0V712.3h0.451V714.0zM622.18 714.0V712.4h0.451V714.0zM622.63 714.0V711.7h0.451V714.0zM623.09 714.0V709.7h0.451V714.0zM623.54 714.0V708.5h0.451V714.0zM623.99 714.0V710.8h0.451V714.0zM624.44 714.0V712.4h0.451V714.0zM624.89 714.0V712.3h0.451V714.0zM625.34 714.0V712.9h0.451V714.0zM625.79 714.0V712.3h0.451V714.0zM626.25 714.0V712.2h0.451V714.0zM626.70 714.0V712.1h0.451V714.0zM627.15 714.0V712.1h0.451V714.0zM627.60 714.0V712.1h0.451V714.0zM628.05 714.0V712.1h0.451V714.0zM628.50 714.0V712.7h0.451V714.0zM628.95 714.0V712.0h0.451V714.0zM629.41 714.0V711.9h0.451V714.0zM629.86 714.0V711.8h0.451V714.0zM630.31 714.0V711.8h0.451V714.0zM630.76 714.0V711.8h0.451V714.0zM631.21 714.0V711.8h0.451V714.0zM631.66 714.0V712.4h0.451V714.0zM632.12 714.0V711.8h0.451V714.0zM632.57 714.0V711.6h0.451V714.0zM633.02 714.0V711.6h0.451V714.0zM633.47 714.0V711.6h0.451V714.0zM633.92 714.0V711.6h0.451V714.0zM634.37 714.0V711.9h0.451V714.0zM634.82 714.0V712.3h0.451V714.0zM635.28 714.0V711.3h0.451V714.0zM635.73 714.0V710.5h0.451V714.0zM636.18 714.0V709.8h0.451V714.0zM636.63 714.0V709.1h0.451V714.0zM637.08 714.0V708.5h0.451V714.0zM637.53 714.0V706.4h0.451V714.0zM637.98 714.0V706.1h0.451V714.0zM638.44 714.0V700.1h0.451V714.0zM638.89 714.0V700.7h0.451V714.0zM639.34 714.0V703.1h0.451V714.0zM639.79 714.0V705.6h0.451V714.0zM640.24 714.0V707.2h0.451V714.0zM640.69 714.0V708.4h0.451V714.0zM641.15 714.0V710.9h0.451V714.0zM641.60 714.0V710.7h0.451V714.0zM642.05 714.0V711.1h0.451V714.0zM642.50 714.0V711.3h0.451V714.0zM642.95 714.0V711.7h0.451V714.0zM643.40 714.0V712.0h0.451V714.0zM643.85 714.0V712.3h0.451V714.0zM644.31 714.0V712.8h0.451V714.0zM644.76 714.0V712.3h0.451V714.0zM645.21 714.0V712.3h0.451V714.0zM645.66 714.0V712.2h0.451V714.0zM646.11 714.0V712.2h0.451V714.0zM646.56 714.0V712.3h0.451V714.0zM647.01 714.0V712.4h0.451V714.0zM647.47 714.0V712.8h0.451V714.0zM647.92 714.0V712.2h0.451V714.0zM648.37 714.0V712.2h0.451V714.0zM648.82 714.0V712.1h0.451V714.0zM649.27 714.0V712.1h0.451V714.0zM649.72 714.0V712.1h0.451V714.0zM650.18 714.0V712.3h0.451V714.0zM650.63 714.0V712.7h0.451V714.0zM651.08 714.0V712.1h0.451V714.0zM651.53 714.0V712.1h0.451V714.0zM651.98 714.0V712.0h0.451V714.0zM652.43 714.0V712.0h0.451V714.0zM652.88 714.0V712.0h0.451V714.0zM653.34 714.0V712.2h0.451V714.0zM653.79 714.0V712.7h0.451V714.0zM654.24 714.0V712.0h0.451V714.0zM654.69 714.0V711.9h0.451V714.0zM655.14 714.0V711.9h0.451V714.0zM655.59 714.0V712.0h0.451V714.0zM656.04 714.0V711.4h0.451V714.0zM656.50 714.0V710.5h0.451V714.0zM656.95 714.0V711.8h0.451V714.0zM657.40 714.0V712.0h0.451V714.0zM657.85 714.0V712.3h0.451V714.0zM658.30 714.0V712.2h0.451V714.0zM658.75 714.0V712.3h0.451V714.0zM659.21 714.0V712.3h0.451V714.0zM659.66 714.0V712.3h0.451V714.0zM660.11 714.0V712.8h0.451V714.0zM660.56 714.0V712.2h0.451V714.0zM661.01 714.0V712.2h0.451V714.0zM661.46 714.0V712.2h0.451V714.0zM661.91 714.0V712.1h0.451V714.0zM662.37 714.0V712.2h0.451V714.0zM662.82 714.0V712.3h0.451V714.0zM663.27 714.0V712.8h0.451V714.0zM663.72 714.0V712.2h0.451V714.0zM664.17 714.0V712.1h0.451V714.0zM664.62 714.0V712.0h0.451V714.0zM665.07 714.0V712.0h0.451V714.0zM665.53 714.0V712.0h0.451V714.0zM665.98 714.0V712.1h0.451V714.0zM666.43 714.0V712.6h0.451V714.0zM666.88 714.0V712.0h0.451V714.0zM667.33 714.0V712.0h0.451V714.0zM667.78 714.0V711.9h0.451V714.0zM668.23 714.0V712.0h0.451V714.0zM668.69 714.0V711.9h0.451V714.0zM669.14 714.0V711.9h0.451V714.0zM669.59 714.0V712.6h0.451V714.0zM670.04 714.0V712.0h0.451V714.0zM670.49 714.0V711.9h0.451V714.0zM670.94 714.0V711.8h0.451V714.0zM671.40 714.0V711.8h0.451V714.0zM671.85 714.0V711.8h0.451V714.0zM672.30 714.0V712.2h0.451V714.0zM672.75 714.0V712.5h0.451V714.0zM673.20 714.0V711.7h0.451V714.0zM673.65 714.0V711.7h0.451V714.0zM674.10 714.0V711.7h0.451V714.0zM674.56 714.0V711.7h0.451V714.0zM675.01 714.0V711.8h0.451V714.0zM675.46 714.0V712.0h0.451V714.0zM675.91 714.0V712.6h0.451V714.0zM676.36 714.0V711.7h0.451V714.0zM676.81 714.0V711.6h0.451V714.0zM677.26 714.0V711.6h0.451V714.0zM677.72 714.0V711.5h0.451V714.0zM678.17 714.0V711.6h0.451V714.0zM678.62 714.0V711.9h0.451V714.0zM679.07 714.0V712.3h0.451V714.0zM679.52 714.0V711.6h0.451V714.0zM679.97 714.0V711.5h0.451V714.0zM680.43 714.0V711.5h0.451V714.0zM680.88 714.0V711.5h0.451V714.0zM681.33 714.0V711.4h0.451V714.0zM681.78 714.0V711.5h0.451V714.0zM682.23 714.0V712.4h0.451V714.0zM682.68 714.0V711.4h0.451V714.0zM683.13 714.0V711.3h0.451V714.0zM683.59 714.0V711.4h0.451V714.0zM684.04 714.0V711.3h0.451V714.0zM684.49 714.0V711.4h0.451V714.0zM684.94 714.0V711.4h0.451V714.0zM685.39 714.0V712.4h0.451V714.0zM685.84 714.0V711.3h0.451V714.0zM686.29 714.0V711.2h0.451V714.0zM686.75 714.0V711.3h0.451V714.0zM687.20 714.0V711.3h0.451V714.0zM687.65 714.0V711.2h0.451V714.0zM688.10 714.0V711.3h0.451V714.0zM688.55 714.0V712.3h0.451V714.0zM689.00 714.0V711.2h0.451V714.0zM689.46 714.0V711.1h0.451V714.0zM689.91 714.0V711.1h0.451V714.0zM690.36 714.0V711.1h0.451V714.0zM690.81 714.0V711.2h0.451V714.0zM691.26 714.0V711.4h0.451V714.0zM691.71 714.0V711.9h0.451V714.0zM692.16 714.0V711.1h0.451V714.0zM692.62 714.0V711.0h0.451V714.0zM693.07 714.0V710.9h0.451V714.0zM693.52 714.0V710.9h0.451V714.0zM693.97 714.0V711.0h0.451V714.0zM694.42 714.0V711.4h0.451V714.0zM694.87 714.0V711.8h0.451V714.0zM695.32 714.0V711.0h0.451V714.0zM695.78 714.0V710.8h0.451V714.0zM696.23 714.0V710.9h0.451V714.0zM696.68 714.0V710.9h0.451V714.0zM697.13 714.0V710.8h0.451V714.0zM697.58 714.0V711.1h0.451V714.0zM698.03 714.0V711.9h0.451V714.0zM698.49 714.0V710.8h0.451V714.0zM698.94 714.0V710.8h0.451V714.0zM699.39 714.0V710.7h0.451V714.0zM699.84 714.0V710.8h0.451V714.0zM700.29 714.0V710.7h0.451V714.0zM700.74 714.0V711.2h0.451V714.0zM701.19 714.0V711.9h0.451V714.0zM701.65 714.0V710.8h0.451V714.0zM702.10 714.0V710.6h0.451V714.0zM702.55 714.0V710.6h0.451V714.0z" fill="#156082"/>
<line x1="113.8" x2="703.0" y1="714.3" y2="714.3" stroke="#156082" stroke-width="1.2"/>
<g font-family="Liberation Sans, sans-serif" font-size="8.75" fill="#404040" text-anchor="end">
<text transform="translate(117.40 720.1) rotate(-90)">01/06/2020</text>
<text transform="translate(129.25 720.1) rotate(-90)">27/06/2020</text>
<text transform="translate(141.10 720.1) rotate(-90)">23/07/2020</text>
<text transform="translate(152.95 720.1) rotate(-90)">18/08/2020</text>
<text transform="translate(164.80 720.1) rotate(-90)">13/09/2020</text>
<text transform="translate(176.65 720.1) rotate(-90)">09/10/2020</text>
<text transform="translate(188.50 720.1) rotate(-90)">04/11/2020</text>
<text transform="translate(200.35 720.1) rotate(-90)">30/11/2020</text>
<text transform="translate(212.20 720.1) rotate(-90)">26/12/2020</text>
<text transform="translate(224.05 720.1) rotate(-90)">21/01/2021</text>
<text transform="translate(235.90 720.1) rotate(-90)">16/02/2021</text>
<text transform="translate(247.75 720.1) rotate(-90)">14/03/2021</text>
<text transform="translate(259.60 720.1) rotate(-90)">09/04/2021</text>
<text transform="translate(271.45 720.1) rotate(-90)">05/05/2021</text>
<text transform="translate(283.30 720.1) rotate(-90)">31/05/2021</text>
<text transform="translate(295.15 720.1) rotate(-90)">26/06/2021</text>
<text transform="translate(307.00 720.1) rotate(-90)">22/07/2021</text>
<text transform="translate(318.85 720.1) rotate(-90)">17/08/2021</text>
<text transform="translate(330.70 720.1) rotate(-90)">12/09/2021</text>
<text transform="translate(342.55 720.1) rotate(-90)">08/10/2021</text>
<text transform="translate(354.40 720.1) rotate(-90)">03/11/2021</text>
<text transform="translate(366.25 720.1) rotate(-90)">29/11/2021</text>
<text transform="translate(378.10 720.1) rotate(-90)">25/12/2021</text>
<text transform="translate(389.95 720.1) rotate(-90)">20/01/2022</text>
<text transform="translate(401.80 720.1) rotate(-90)">15/02/2022</text>
<text transform="translate(413.65 720.1) rotate(-90)">13/03/2022</text>
<text transform="translate(425.50 720.1) rotate(-90)">08/04/2022</text>
<text transform="translate(437.35 720.1) rotate(-90)">04/05/2022</text>
<text transform="translate(449.20 720.1) rotate(-90)">30/05/2022</text>
<text transform="translate(461.05 720.1) rotate(-90)">25/06/2022</text>
<text transform="translate(472.90 720.1) rotate(-90)">21/07/2022</text>
<text transform="translate(484.75 720.1) rotate(-90)">16/08/2022</text>
<text transform="translate(496.60 720.1) rotate(-90)">11/09/2022</text>
<text transform="translate(508.45 720.1) rotate(-90)">07/10/2022</text>
<text transform="translate(520.30 720.1) rotate(-90)">02/11/2022</text>
<text transform="translate(532.15 720.1) rotate(-90)">28/11/2022</text>
<text transform="translate(544.00 720.1) rotate(-90)">24/12/2022</text>
<text transform="translate(555.85 720.1) rotate(-90)">19/01/2023</text>
<text transform="translate(567.70 720.1) rotate(-90)">14/02/2023</text>
<text transform="translate(579.55 720.1) rotate(-90)">12/03/2023</text>
<text transform="translate(591.40 720.1) rotate(-90)">07/04/2023</text>
<text transform="translate(603.25 720.1) rotate(-90)">03/05/2023</text>
<text transform="translate(615.10 720.1) rotate(-90)">29/05/2023</text>
<text transform="translate(626.95 720.1) rotate(-90)">24/06/2023</text>
<text transform="translate(638.80 720.1) rotate(-90)">20/07/2023</text>
<text transform="translate(650.65 720.1) rotate(-90)">15/08/2023</text>
<text transform="translate(662.50 720.1) rotate(-90)">10/09/2023</text>
<text transform="translate(674.35 720.1) rotate(-90)">06/10/2023</text>
<text transform="translate(686.20 720.1) rotate(-90)">01/11/2023</text>
<text transform="translate(698.05 720.1) rotate(-90)">27/11/2023</text>
</g>
</svg>
</div>

<!-- action bar -->
<svg class="abs" style="left:68.1px;top:787.9px" width="23.44" height="23.44" viewBox="0 0 24 24"><path fill="#536471" d="M1.751 10c0-4.420 3.584-8 8.005-8h4.366c4.490 0 8.129 3.640 8.129 8.130 0 2.960-1.607 5.680-4.196 7.110l-8.054 4.460v-3.690h-.067c-4.490.100-8.183-3.510-8.183-8.010zm8.005-6c-3.317 0-6.005 2.690-6.005 6 0 3.370 2.770 6.080 6.138 6.010l.351-.010h1.761v2.300l5.087-2.810c1.951-1.080 3.163-3.130 3.163-5.360 0-3.390-2.744-6.130-6.129-6.130H9.756z"/></svg>
<svg class="abs" style="left:215.0px;top:788.0px" width="23.44" height="23.44" viewBox="0 0 24 24"><path fill="#536471" d="M4.500 3.88l4.432 4.14-1.364 1.46L5.500 7.55V16c0 1.1.896 2 2 2H13v2H7.500c-2.209 0-4-1.790-4-4V7.550L1.432 9.480.068 8.020 4.500 3.880zM16.500 6H11V4h5.500c2.209 0 4 1.790 4 4v8.450l2.068-1.930 1.364 1.460-4.432 4.140-4.432-4.140 1.364-1.460 2.068 1.930V8c0-1.100-.896-2-2-2z"/></svg>
<div class="abs cnt" style="left:243.4px;top:793.8px">5</div>
<svg class="abs" style="left:361.0px;top:787.8px" width="23.44" height="23.44" viewBox="0 0 24 24"><path fill="#f91880" d="M20.884 13.190c-1.351 2.480-4.001 5.120-8.379 7.670l-.503.300-.504-.300c-4.379-2.550-7.029-5.190-8.382-7.670-1.360-2.500-1.410-4.860-.514-6.670.887-1.790 2.647-2.910 4.601-3.010 1.651-.090 3.368.560 4.798 2.010 1.429-1.450 3.146-2.100 4.796-2.010 1.954.100 3.714 1.220 4.601 3.010.896 1.810.846 4.170-.514 6.670z"/></svg>
<div class="abs cnt" style="left:390px;top:793.8px;color:#f91880">26</div>
<svg class="abs" style="left:507.8px;top:788.0px" width="23.44" height="23.44" viewBox="0 0 24 24"><path fill="#536471" d="M8.750 21V3h2v18h-2zM18 21V8.500h2V21h-2zM4 21l.004-10h2L6 21H4zm9.248 0v-7h2v7h-2z"/></svg>
<div class="abs cnt" style="left:536.5px;top:793.8px">219</div>
<svg class="abs" style="left:654.1px;top:788.0px" width="23.44" height="23.44" viewBox="0 0 24 24"><path fill="#536471" d="M4 4.500C4 3.120 5.119 2 6.500 2h11C18.881 2 20 3.120 20 4.500v18.440l-8-5.710-8 5.710V4.500zM6.500 4c-.276 0-.5.220-.5.500v14.560l6-4.290 6 4.290V4.500c0-.280-.224-.500-.5-.500h-11z"/></svg>
<svg class="abs" style="left:693.3px;top:788.3px" width="23.44" height="23.44" viewBox="0 0 24 24"><path fill="#536471" d="M12 2.590l5.700 5.700-1.410 1.420L13 6.410V16h-2V6.410l-3.300 3.300-1.410-1.420L12 2.590zM21 15l-.020 3.510c0 1.380-1.120 2.490-2.500 2.490H5.500C4.110 21 3 19.880 3 18.500V15h2v3.500c0 .280.220.500.500.500h12.980c.280 0 .500-.220.500-.500L19 15h2z"/></svg>
</body>
</html>
